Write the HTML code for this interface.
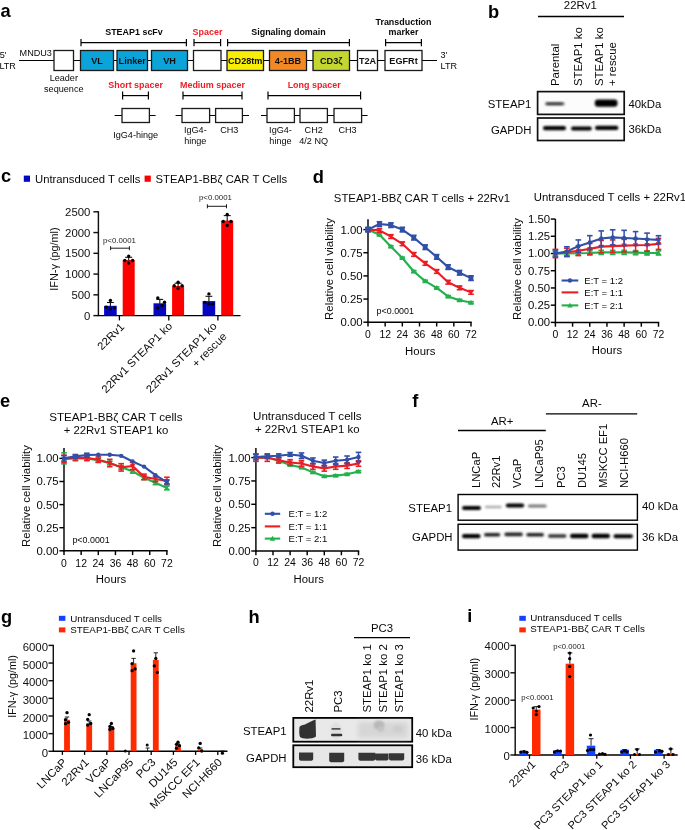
<!DOCTYPE html>
<html><head><meta charset="utf-8"><style>
html,body{margin:0;padding:0;background:#fff;}
svg{display:block;opacity:0.999;}
text{font-family:"Liberation Sans",sans-serif;}
</style></head><body>
<svg width="685" height="830" viewBox="0 0 685 830">
<defs><filter id="blur1" x="-20%" y="-100%" width="140%" height="300%"><feGaussianBlur stdDeviation="0.8"/></filter><filter id="blurh" x="-20%" y="-100%" width="140%" height="300%"><feGaussianBlur stdDeviation="0.55"/></filter><filter id="blur3" x="-30%" y="-50%" width="160%" height="200%"><feGaussianBlur stdDeviation="2.5"/></filter><filter id="blur2" x="-20%" y="-100%" width="140%" height="300%"><feGaussianBlur stdDeviation="1.2"/></filter></defs>
<rect width="685" height="830" fill="#fff"/>
<text x="0.50" y="17.30" font-size="18" text-anchor="start" font-weight="bold" fill="#000" transform="translate(0.50 17.30) scale(1.0150 1) translate(-0.50 -17.30)">a</text>
<line x1="19.00" y1="60.50" x2="437.00" y2="60.50" stroke="#000" stroke-width="1.2"/>
<rect x="54.00" y="50.50" width="19.50" height="20.00" fill="#fff" stroke="#1a1a1a" stroke-width="1.3"/>
<rect x="80.50" y="50.50" width="33.00" height="20.00" fill="#0CA3D8" stroke="#1a1a1a" stroke-width="1.3"/>
<text x="97.00" y="63.80" font-size="9" text-anchor="middle" font-weight="bold" fill="#111" transform="translate(97.00 63.80) scale(1.0150 1) translate(-97.00 -63.80)">VL</text>
<rect x="117.00" y="50.50" width="30.50" height="20.00" fill="#0CA3D8" stroke="#1a1a1a" stroke-width="1.3"/>
<text x="132.25" y="63.80" font-size="9" text-anchor="middle" font-weight="bold" fill="#111" transform="translate(132.25 63.80) scale(1.0150 1) translate(-132.25 -63.80)">Linker</text>
<rect x="151.50" y="50.50" width="36.00" height="20.00" fill="#0CA3D8" stroke="#1a1a1a" stroke-width="1.3"/>
<text x="169.50" y="63.80" font-size="9" text-anchor="middle" font-weight="bold" fill="#111" transform="translate(169.50 63.80) scale(1.0150 1) translate(-169.50 -63.80)">VH</text>
<rect x="193.50" y="50.50" width="27.50" height="20.00" fill="#fff" stroke="#1a1a1a" stroke-width="1.3"/>
<rect x="227.00" y="50.50" width="36.50" height="20.00" fill="#F8EE06" stroke="#1a1a1a" stroke-width="1.3"/>
<text x="245.25" y="63.80" font-size="9" text-anchor="middle" font-weight="bold" fill="#111" transform="translate(245.25 63.80) scale(1.0150 1) translate(-245.25 -63.80)">CD28tm</text>
<rect x="269.50" y="50.50" width="37.00" height="20.00" fill="#F18A26" stroke="#1a1a1a" stroke-width="1.3"/>
<text x="288.00" y="63.80" font-size="9" text-anchor="middle" font-weight="bold" fill="#111" transform="translate(288.00 63.80) scale(1.0150 1) translate(-288.00 -63.80)">4-1BB</text>
<rect x="313.00" y="50.50" width="36.50" height="20.00" fill="#C4D630" stroke="#1a1a1a" stroke-width="1.3"/>
<text x="331.25" y="63.80" font-size="9" text-anchor="middle" font-weight="bold" fill="#111" transform="translate(331.25 63.80) scale(1.0150 1) translate(-331.25 -63.80)">CD3ζ</text>
<rect x="357.50" y="50.50" width="20.00" height="20.00" fill="#fff" stroke="#1a1a1a" stroke-width="1.3"/>
<text x="367.50" y="63.80" font-size="9" text-anchor="middle" font-weight="bold" fill="#111" transform="translate(367.50 63.80) scale(1.0150 1) translate(-367.50 -63.80)">T2A</text>
<rect x="385.00" y="50.50" width="37.00" height="20.00" fill="#fff" stroke="#1a1a1a" stroke-width="1.3"/>
<text x="403.50" y="63.80" font-size="9" text-anchor="middle" font-weight="bold" fill="#111" transform="translate(403.50 63.80) scale(1.0150 1) translate(-403.50 -63.80)">EGFRt</text>
<line x1="81.00" y1="42.60" x2="186.40" y2="42.60" stroke="#000" stroke-width="1.2"/>
<line x1="81.00" y1="38.90" x2="81.00" y2="46.30" stroke="#000" stroke-width="1.2"/>
<line x1="186.40" y1="38.90" x2="186.40" y2="46.30" stroke="#000" stroke-width="1.2"/>
<line x1="194.00" y1="42.60" x2="220.60" y2="42.60" stroke="#000" stroke-width="1.2"/>
<line x1="194.00" y1="38.90" x2="194.00" y2="46.30" stroke="#000" stroke-width="1.2"/>
<line x1="220.60" y1="38.90" x2="220.60" y2="46.30" stroke="#000" stroke-width="1.2"/>
<line x1="227.60" y1="42.60" x2="349.40" y2="42.60" stroke="#000" stroke-width="1.2"/>
<line x1="227.60" y1="38.90" x2="227.60" y2="46.30" stroke="#000" stroke-width="1.2"/>
<line x1="349.40" y1="38.90" x2="349.40" y2="46.30" stroke="#000" stroke-width="1.2"/>
<line x1="385.60" y1="42.60" x2="421.40" y2="42.60" stroke="#000" stroke-width="1.2"/>
<line x1="385.60" y1="38.90" x2="385.60" y2="46.30" stroke="#000" stroke-width="1.2"/>
<line x1="421.40" y1="38.90" x2="421.40" y2="46.30" stroke="#000" stroke-width="1.2"/>
<text x="134.00" y="35.10" font-size="8.8" text-anchor="middle" font-weight="bold" fill="#080808" transform="translate(134.00 35.10) scale(1.0150 1) translate(-134.00 -35.10)">STEAP1 scFv</text>
<text x="207.50" y="35.10" font-size="8.8" text-anchor="middle" font-weight="bold" fill="#EE1C25" transform="translate(207.50 35.10) scale(1.0150 1) translate(-207.50 -35.10)">Spacer</text>
<text x="288.50" y="35.10" font-size="8.8" text-anchor="middle" font-weight="bold" fill="#080808" transform="translate(288.50 35.10) scale(1.0150 1) translate(-288.50 -35.10)">Signaling domain</text>
<text x="403.50" y="25.00" font-size="8.8" text-anchor="middle" font-weight="bold" fill="#080808" transform="translate(403.50 25.00) scale(1.0150 1) translate(-403.50 -25.00)">Transduction</text>
<text x="403.50" y="35.10" font-size="8.8" text-anchor="middle" font-weight="bold" fill="#080808" transform="translate(403.50 35.10) scale(1.0150 1) translate(-403.50 -35.10)">marker</text>
<text x="19.60" y="56.40" font-size="8.8" text-anchor="start" fill="#080808" transform="translate(19.60 56.40) scale(1.0350 1) translate(-19.60 -56.40)">MNDU3</text>
<text x="-0.30" y="57.90" font-size="8.8" text-anchor="start" fill="#080808" transform="translate(-0.30 57.90) scale(1.0350 1) translate(0.30 -57.90)">5'</text>
<text x="-0.60" y="68.70" font-size="8.8" text-anchor="start" fill="#080808" transform="translate(-0.60 68.70) scale(1.0350 1) translate(0.60 -68.70)">LTR</text>
<text x="440.60" y="58.00" font-size="8.8" text-anchor="start" fill="#080808" transform="translate(440.60 58.00) scale(1.0350 1) translate(-440.60 -58.00)">3'</text>
<text x="440.60" y="68.60" font-size="8.8" text-anchor="start" fill="#080808" transform="translate(440.60 68.60) scale(1.0350 1) translate(-440.60 -68.60)">LTR</text>
<text x="63.80" y="81.20" font-size="8.8" text-anchor="middle" fill="#080808" transform="translate(63.80 81.20) scale(1.0350 1) translate(-63.80 -81.20)">Leader</text>
<text x="63.80" y="91.70" font-size="8.8" text-anchor="middle" fill="#080808" transform="translate(63.80 91.70) scale(1.0350 1) translate(-63.80 -91.70)">sequence</text>
<line x1="114.60" y1="115.50" x2="155.60" y2="115.50" stroke="#000" stroke-width="1.2"/>
<rect x="122.00" y="108.50" width="27.40" height="14.00" fill="#fff" stroke="#1a1a1a" stroke-width="1.3"/>
<line x1="122.60" y1="95.60" x2="148.40" y2="95.60" stroke="#000" stroke-width="1.2"/>
<line x1="122.60" y1="91.60" x2="122.60" y2="99.60" stroke="#000" stroke-width="1.2"/>
<line x1="148.40" y1="91.60" x2="148.40" y2="99.60" stroke="#000" stroke-width="1.2"/>
<text x="135.60" y="87.60" font-size="8.8" text-anchor="middle" font-weight="bold" fill="#EE1C25" transform="translate(135.60 87.60) scale(1.0150 1) translate(-135.60 -87.60)">Short spacer</text>
<text x="135.70" y="137.60" font-size="8.8" text-anchor="middle" fill="#080808" transform="translate(135.70 137.60) scale(1.0350 1) translate(-135.70 -137.60)">IgG4-hinge</text>
<line x1="175.60" y1="115.50" x2="249.00" y2="115.50" stroke="#000" stroke-width="1.2"/>
<rect x="182.00" y="108.50" width="27.60" height="14.00" fill="#fff" stroke="#1a1a1a" stroke-width="1.3"/>
<rect x="215.60" y="108.50" width="26.80" height="14.00" fill="#fff" stroke="#1a1a1a" stroke-width="1.3"/>
<line x1="183.00" y1="95.60" x2="242.00" y2="95.60" stroke="#000" stroke-width="1.2"/>
<line x1="183.00" y1="91.60" x2="183.00" y2="99.60" stroke="#000" stroke-width="1.2"/>
<line x1="242.00" y1="91.60" x2="242.00" y2="99.60" stroke="#000" stroke-width="1.2"/>
<text x="212.50" y="87.60" font-size="8.8" text-anchor="middle" font-weight="bold" fill="#EE1C25" transform="translate(212.50 87.60) scale(1.0150 1) translate(-212.50 -87.60)">Medium spacer</text>
<text x="195.30" y="133.00" font-size="8.8" text-anchor="middle" fill="#080808" transform="translate(195.30 133.00) scale(1.0350 1) translate(-195.30 -133.00)">IgG4-</text>
<text x="195.30" y="143.60" font-size="8.8" text-anchor="middle" fill="#080808" transform="translate(195.30 143.60) scale(1.0350 1) translate(-195.30 -143.60)">hinge</text>
<text x="229.30" y="133.00" font-size="8.8" text-anchor="middle" fill="#080808" transform="translate(229.30 133.00) scale(1.0350 1) translate(-229.30 -133.00)">CH3</text>
<line x1="261.00" y1="115.50" x2="367.60" y2="115.50" stroke="#000" stroke-width="1.2"/>
<rect x="267.00" y="108.50" width="27.40" height="14.00" fill="#fff" stroke="#1a1a1a" stroke-width="1.3"/>
<rect x="300.00" y="108.50" width="27.40" height="14.00" fill="#fff" stroke="#1a1a1a" stroke-width="1.3"/>
<rect x="334.00" y="108.50" width="27.60" height="14.00" fill="#fff" stroke="#1a1a1a" stroke-width="1.3"/>
<line x1="268.00" y1="95.60" x2="360.60" y2="95.60" stroke="#000" stroke-width="1.2"/>
<line x1="268.00" y1="91.60" x2="268.00" y2="99.60" stroke="#000" stroke-width="1.2"/>
<line x1="360.60" y1="91.60" x2="360.60" y2="99.60" stroke="#000" stroke-width="1.2"/>
<text x="314.20" y="87.60" font-size="8.8" text-anchor="middle" font-weight="bold" fill="#EE1C25" transform="translate(314.20 87.60) scale(1.0150 1) translate(-314.20 -87.60)">Long spacer</text>
<text x="280.50" y="133.00" font-size="8.8" text-anchor="middle" fill="#080808" transform="translate(280.50 133.00) scale(1.0350 1) translate(-280.50 -133.00)">IgG4-</text>
<text x="280.50" y="143.60" font-size="8.8" text-anchor="middle" fill="#080808" transform="translate(280.50 143.60) scale(1.0350 1) translate(-280.50 -143.60)">hinge</text>
<text x="313.70" y="133.00" font-size="8.8" text-anchor="middle" fill="#080808" transform="translate(313.70 133.00) scale(1.0350 1) translate(-313.70 -133.00)">CH2</text>
<text x="313.70" y="143.60" font-size="8.8" text-anchor="middle" fill="#080808" transform="translate(313.70 143.60) scale(1.0350 1) translate(-313.70 -143.60)">4/2 NQ</text>
<text x="347.50" y="133.00" font-size="8.8" text-anchor="middle" fill="#080808" transform="translate(347.50 133.00) scale(1.0350 1) translate(-347.50 -133.00)">CH3</text>
<text x="488.00" y="17.60" font-size="18" text-anchor="start" font-weight="bold" fill="#000" transform="translate(488.00 17.60) scale(1.0150 1) translate(-488.00 -17.60)">b</text>
<text x="580.30" y="9.00" font-size="11" text-anchor="middle" fill="#080808" transform="translate(580.30 9.00) scale(1.0350 1) translate(-580.30 -9.00)">22Rv1</text>
<line x1="538.00" y1="16.50" x2="624.00" y2="16.50" stroke="#000" stroke-width="1.3"/>
<text x="559.00" y="86.00" font-size="11" text-anchor="start" fill="#080808" transform="rotate(-90 559.00 86.00) translate(559.00 86.00) scale(1.0350 1) translate(-559.00 -86.00)">Parental</text>
<text x="582.40" y="86.00" font-size="11" text-anchor="start" fill="#080808" transform="rotate(-90 582.40 86.00) translate(582.40 86.00) scale(1.0350 1) translate(-582.40 -86.00)">STEAP1 ko</text>
<text x="603.40" y="86.00" font-size="11" text-anchor="start" fill="#080808" transform="rotate(-90 603.40 86.00) translate(603.40 86.00) scale(1.0350 1) translate(-603.40 -86.00)">STEAP1 ko</text>
<text x="616.00" y="86.00" font-size="11" text-anchor="start" fill="#080808" transform="rotate(-90 616.00 86.00) translate(616.00 86.00) scale(1.0350 1) translate(-616.00 -86.00)">+ rescue</text>
<rect x="537.60" y="91.60" width="86.60" height="22.80" fill="#fcfcfc" stroke="#111" stroke-width="1.7"/>
<rect x="537.60" y="118.00" width="86.60" height="22.50" fill="#fcfcfc" stroke="#111" stroke-width="1.7"/>
<rect x="545.0" y="102.2" width="19.5" height="3.0" rx="1.5" fill="#5a5a5a" opacity="1.0" filter="url(#blur1)"/>
<rect x="547.0" y="102.9" width="15.0" height="1.6" rx="0.8" fill="#333" opacity="1.0" filter="url(#blur1)"/>
<rect x="594.8" y="99.6" width="22.7" height="7.2" rx="3.0" fill="#000" opacity="1.0" filter="url(#blur1)"/>
<rect x="543.0" y="126.0" width="23.0" height="4.3" rx="2.1" fill="#000" opacity="1.0" filter="url(#blur1)"/>
<rect x="571.0" y="126.5" width="20.8" height="4.1" rx="2.0" fill="#000" opacity="1.0" filter="url(#blur1)"/>
<rect x="595.0" y="125.8" width="23.4" height="4.3" rx="2.1" fill="#000" opacity="1.0" filter="url(#blur1)"/>
<text x="531.40" y="108.20" font-size="11" text-anchor="end" fill="#080808" transform="translate(531.40 108.20) scale(1.0350 1) translate(-531.40 -108.20)">STEAP1</text>
<text x="531.40" y="134.00" font-size="11" text-anchor="end" fill="#080808" transform="translate(531.40 134.00) scale(1.0350 1) translate(-531.40 -134.00)">GAPDH</text>
<text x="628.40" y="107.80" font-size="11" text-anchor="start" fill="#080808" transform="translate(628.40 107.80) scale(1.0350 1) translate(-628.40 -107.80)">40kDa</text>
<text x="628.40" y="133.20" font-size="11" text-anchor="start" fill="#080808" transform="translate(628.40 133.20) scale(1.0350 1) translate(-628.40 -133.20)">36kDa</text>
<text x="0.90" y="182.00" font-size="18" text-anchor="start" font-weight="bold" fill="#000" transform="translate(0.90 182.00) scale(1.0150 1) translate(-0.90 -182.00)">c</text>
<rect x="23.80" y="175.60" width="6.20" height="6.20" fill="#0606C2"/>
<text x="35.00" y="182.60" font-size="10.9" text-anchor="start" fill="#080808" transform="translate(35.00 182.60) scale(1.0350 1) translate(-35.00 -182.60)">Untransduced T cells</text>
<rect x="144.60" y="175.60" width="6.20" height="6.20" fill="#FF0000"/>
<text x="155.60" y="182.60" font-size="10.9" text-anchor="start" fill="#080808" transform="translate(155.60 182.60) scale(1.0350 1) translate(-155.60 -182.60)">STEAP1-BBζ CAR T Cells</text>
<line x1="98.40" y1="211.20" x2="98.40" y2="315.60" stroke="#111" stroke-width="1.45"/>
<line x1="93.40" y1="315.60" x2="98.40" y2="315.60" stroke="#111" stroke-width="1.45"/>
<text x="90.40" y="319.56" font-size="11" text-anchor="end" fill="#111" transform="translate(90.40 319.56) scale(1.0350 1) translate(-90.40 -319.56)">0</text>
<line x1="93.40" y1="294.84" x2="98.40" y2="294.84" stroke="#111" stroke-width="1.45"/>
<text x="90.40" y="298.80" font-size="11" text-anchor="end" fill="#111" transform="translate(90.40 298.80) scale(1.0350 1) translate(-90.40 -298.80)">500</text>
<line x1="93.40" y1="274.08" x2="98.40" y2="274.08" stroke="#111" stroke-width="1.45"/>
<text x="90.40" y="278.04" font-size="11" text-anchor="end" fill="#111" transform="translate(90.40 278.04) scale(1.0350 1) translate(-90.40 -278.04)">1000</text>
<line x1="93.40" y1="253.32" x2="98.40" y2="253.32" stroke="#111" stroke-width="1.45"/>
<text x="90.40" y="257.28" font-size="11" text-anchor="end" fill="#111" transform="translate(90.40 257.28) scale(1.0350 1) translate(-90.40 -257.28)">1500</text>
<line x1="93.40" y1="232.56" x2="98.40" y2="232.56" stroke="#111" stroke-width="1.45"/>
<text x="90.40" y="236.52" font-size="11" text-anchor="end" fill="#111" transform="translate(90.40 236.52) scale(1.0350 1) translate(-90.40 -236.52)">2000</text>
<line x1="93.40" y1="211.80" x2="98.40" y2="211.80" stroke="#111" stroke-width="1.45"/>
<text x="90.40" y="215.76" font-size="11" text-anchor="end" fill="#111" transform="translate(90.40 215.76) scale(1.0350 1) translate(-90.40 -215.76)">2500</text>
<line x1="97.70" y1="315.60" x2="240.50" y2="315.60" stroke="#000" stroke-width="1.45"/>
<text x="58.40" y="259.00" font-size="10.5" text-anchor="middle" fill="#080808" transform="rotate(-90 58.40 259.00) translate(58.40 259.00) scale(1.0350 1) translate(-58.40 -259.00)">IFN-γ (pg/ml)</text>
<rect x="104.10" y="305.80" width="12.60" height="9.80" fill="#0606C2"/>
<rect x="122.70" y="260.00" width="12.00" height="55.60" fill="#FF0000"/>
<line x1="110.40" y1="306.30" x2="110.40" y2="302.50" stroke="#111" stroke-width="1.1"/>
<line x1="107.00" y1="302.50" x2="113.80" y2="302.50" stroke="#111" stroke-width="1.1"/>
<line x1="128.70" y1="260.50" x2="128.70" y2="257.30" stroke="#111" stroke-width="1.1"/>
<line x1="125.20" y1="257.30" x2="132.20" y2="257.30" stroke="#111" stroke-width="1.1"/>
<circle cx="110.40" cy="300.40" r="1.7" fill="#000"/>
<circle cx="106.20" cy="307.20" r="1.7" fill="#000"/>
<circle cx="110.40" cy="308.90" r="1.7" fill="#000"/>
<circle cx="114.50" cy="307.90" r="1.7" fill="#000"/>
<circle cx="128.70" cy="256.10" r="1.7" fill="#000"/>
<circle cx="124.80" cy="260.50" r="1.7" fill="#000"/>
<circle cx="132.60" cy="260.50" r="1.7" fill="#000"/>
<circle cx="128.70" cy="263.10" r="1.7" fill="#000"/>
<line x1="119.40" y1="315.60" x2="119.40" y2="320.40" stroke="#000" stroke-width="1.3"/>
<rect x="153.50" y="303.30" width="12.60" height="12.30" fill="#0606C2"/>
<rect x="172.10" y="286.00" width="12.00" height="29.60" fill="#FF0000"/>
<line x1="159.80" y1="303.80" x2="159.80" y2="299.40" stroke="#111" stroke-width="1.1"/>
<line x1="156.40" y1="299.40" x2="163.20" y2="299.40" stroke="#111" stroke-width="1.1"/>
<line x1="178.10" y1="286.50" x2="178.10" y2="283.20" stroke="#111" stroke-width="1.1"/>
<line x1="174.60" y1="283.20" x2="181.60" y2="283.20" stroke="#111" stroke-width="1.1"/>
<circle cx="157.80" cy="298.00" r="1.7" fill="#000"/>
<circle cx="164.50" cy="302.30" r="1.7" fill="#000"/>
<circle cx="162.00" cy="305.50" r="1.7" fill="#000"/>
<circle cx="157.80" cy="307.90" r="1.7" fill="#000"/>
<circle cx="178.10" cy="282.20" r="1.7" fill="#000"/>
<circle cx="174.20" cy="285.70" r="1.7" fill="#000"/>
<circle cx="182.10" cy="285.70" r="1.7" fill="#000"/>
<circle cx="178.10" cy="288.30" r="1.7" fill="#000"/>
<line x1="168.80" y1="315.60" x2="168.80" y2="320.40" stroke="#000" stroke-width="1.3"/>
<rect x="202.60" y="301.10" width="12.60" height="14.50" fill="#0606C2"/>
<rect x="221.20" y="220.60" width="12.00" height="95.00" fill="#FF0000"/>
<line x1="208.90" y1="301.60" x2="208.90" y2="296.30" stroke="#111" stroke-width="1.1"/>
<line x1="205.50" y1="296.30" x2="212.30" y2="296.30" stroke="#111" stroke-width="1.1"/>
<line x1="227.20" y1="221.10" x2="227.20" y2="215.60" stroke="#111" stroke-width="1.1"/>
<line x1="223.70" y1="215.60" x2="230.70" y2="215.60" stroke="#111" stroke-width="1.1"/>
<circle cx="208.90" cy="293.90" r="1.7" fill="#000"/>
<circle cx="204.80" cy="302.40" r="1.7" fill="#000"/>
<circle cx="208.90" cy="303.90" r="1.7" fill="#000"/>
<circle cx="212.80" cy="303.90" r="1.7" fill="#000"/>
<circle cx="227.20" cy="214.50" r="1.7" fill="#000"/>
<circle cx="223.20" cy="221.50" r="1.7" fill="#000"/>
<circle cx="231.00" cy="221.50" r="1.7" fill="#000"/>
<circle cx="227.20" cy="225.50" r="1.7" fill="#000"/>
<line x1="217.90" y1="315.60" x2="217.90" y2="320.40" stroke="#000" stroke-width="1.3"/>
<text x="119.50" y="243.40" font-size="7.6" text-anchor="middle" fill="#222" transform="translate(119.50 243.40) scale(1.0350 1) translate(-119.50 -243.40)">p&lt;0.0001</text>
<line x1="110.60" y1="248.20" x2="129.40" y2="248.20" stroke="#000" stroke-width="0.9"/>
<line x1="110.60" y1="246.20" x2="110.60" y2="250.20" stroke="#000" stroke-width="0.9"/>
<line x1="129.40" y1="246.20" x2="129.40" y2="250.20" stroke="#000" stroke-width="0.9"/>
<text x="215.50" y="200.40" font-size="7.6" text-anchor="middle" fill="#222" transform="translate(215.50 200.40) scale(1.0350 1) translate(-215.50 -200.40)">p&lt;0.0001</text>
<line x1="207.40" y1="206.30" x2="226.50" y2="206.30" stroke="#000" stroke-width="0.9"/>
<line x1="207.40" y1="204.30" x2="207.40" y2="208.30" stroke="#000" stroke-width="0.9"/>
<line x1="226.50" y1="204.30" x2="226.50" y2="208.30" stroke="#000" stroke-width="0.9"/>
<text x="125.00" y="327.50" font-size="11" text-anchor="end" fill="#080808" transform="rotate(-45 125.00 327.50) translate(125.00 327.50) scale(1.0350 1) translate(-125.00 -327.50)">22Rv1</text>
<text x="173.00" y="326.70" font-size="11" text-anchor="end" fill="#080808" transform="rotate(-45 173.00 326.70) translate(173.00 326.70) scale(1.0350 1) translate(-173.00 -326.70)">22Rv1 STEAP1 ko</text>
<text x="217.60" y="326.70" font-size="11" text-anchor="end" fill="#080808" transform="rotate(-45 217.60 326.70) translate(217.60 326.70) scale(1.0350 1) translate(-217.60 -326.70)">22Rv1 STEAP1 ko</text>
<text x="227.60" y="337.00" font-size="11" text-anchor="end" fill="#080808" transform="rotate(-45 227.60 337.00) translate(227.60 337.00) scale(1.0350 1) translate(-227.60 -337.00)">+ rescue</text>
<text x="312.70" y="182.60" font-size="18" text-anchor="start" font-weight="bold" fill="#000" transform="translate(312.70 182.60) scale(1.0150 1) translate(-312.70 -182.60)">d</text>
<text x="333.80" y="201.90" font-size="11" text-anchor="start" fill="#080808" transform="translate(333.80 201.90) scale(1.0350 1) translate(-333.80 -201.90)">STEAP1-BBζ CAR T cells + 22Rv1</text>
<line x1="368.00" y1="219.30" x2="368.00" y2="322.90" stroke="#000" stroke-width="1.45"/>
<line x1="367.30" y1="322.20" x2="471.70" y2="322.20" stroke="#000" stroke-width="1.45"/>
<line x1="363.40" y1="322.20" x2="368.00" y2="322.20" stroke="#000" stroke-width="1.45"/>
<text x="362.70" y="326.16" font-size="11" text-anchor="end" fill="#080808" transform="translate(362.70 326.16) scale(1.0350 1) translate(-362.70 -326.16)">0.00</text>
<line x1="363.40" y1="299.05" x2="368.00" y2="299.05" stroke="#000" stroke-width="1.45"/>
<text x="362.70" y="303.01" font-size="11" text-anchor="end" fill="#080808" transform="translate(362.70 303.01) scale(1.0350 1) translate(-362.70 -303.01)">0.25</text>
<line x1="363.40" y1="275.90" x2="368.00" y2="275.90" stroke="#000" stroke-width="1.45"/>
<text x="362.70" y="279.86" font-size="11" text-anchor="end" fill="#080808" transform="translate(362.70 279.86) scale(1.0350 1) translate(-362.70 -279.86)">0.50</text>
<line x1="363.40" y1="252.75" x2="368.00" y2="252.75" stroke="#000" stroke-width="1.45"/>
<text x="362.70" y="256.71" font-size="11" text-anchor="end" fill="#080808" transform="translate(362.70 256.71) scale(1.0350 1) translate(-362.70 -256.71)">0.75</text>
<line x1="363.40" y1="229.60" x2="368.00" y2="229.60" stroke="#000" stroke-width="1.45"/>
<text x="362.70" y="233.56" font-size="11" text-anchor="end" fill="#080808" transform="translate(362.70 233.56) scale(1.0350 1) translate(-362.70 -233.56)">1.00</text>
<line x1="368.00" y1="322.20" x2="368.00" y2="326.50" stroke="#000" stroke-width="1.45"/>
<text x="368.00" y="338.10" font-size="10.4" text-anchor="middle" fill="#080808">0</text>
<line x1="385.17" y1="322.20" x2="385.17" y2="326.50" stroke="#000" stroke-width="1.45"/>
<text x="385.17" y="338.10" font-size="10.4" text-anchor="middle" fill="#080808">12</text>
<line x1="402.33" y1="322.20" x2="402.33" y2="326.50" stroke="#000" stroke-width="1.45"/>
<text x="402.33" y="338.10" font-size="10.4" text-anchor="middle" fill="#080808">24</text>
<line x1="419.50" y1="322.20" x2="419.50" y2="326.50" stroke="#000" stroke-width="1.45"/>
<text x="419.50" y="338.10" font-size="10.4" text-anchor="middle" fill="#080808">36</text>
<line x1="436.67" y1="322.20" x2="436.67" y2="326.50" stroke="#000" stroke-width="1.45"/>
<text x="436.67" y="338.10" font-size="10.4" text-anchor="middle" fill="#080808">48</text>
<line x1="453.83" y1="322.20" x2="453.83" y2="326.50" stroke="#000" stroke-width="1.45"/>
<text x="453.83" y="338.10" font-size="10.4" text-anchor="middle" fill="#080808">60</text>
<line x1="471.00" y1="322.20" x2="471.00" y2="326.50" stroke="#000" stroke-width="1.45"/>
<text x="471.00" y="338.10" font-size="10.4" text-anchor="middle" fill="#080808">72</text>
<text x="420.30" y="355.00" font-size="11" text-anchor="middle" fill="#080808" transform="translate(420.30 355.00) scale(1.0350 1) translate(-420.30 -355.00)">Hours</text>
<text x="333.50" y="269.00" font-size="11" text-anchor="middle" fill="#080808" transform="rotate(-90 333.50 269.00) translate(333.50 269.00) scale(1.0350 1) translate(-333.50 -269.00)">Relative cell viability</text>
<line x1="368.00" y1="228.67" x2="368.00" y2="230.53" stroke="#22B14C" stroke-width="1.5"/>
<line x1="365.20" y1="228.67" x2="370.80" y2="228.67" stroke="#22B14C" stroke-width="1.6"/>
<line x1="365.20" y1="230.53" x2="370.80" y2="230.53" stroke="#22B14C" stroke-width="1.6"/>
<line x1="379.44" y1="233.86" x2="379.44" y2="235.71" stroke="#22B14C" stroke-width="1.5"/>
<line x1="376.64" y1="233.86" x2="382.24" y2="233.86" stroke="#22B14C" stroke-width="1.6"/>
<line x1="376.64" y1="235.71" x2="382.24" y2="235.71" stroke="#22B14C" stroke-width="1.6"/>
<line x1="390.89" y1="245.62" x2="390.89" y2="247.47" stroke="#22B14C" stroke-width="1.5"/>
<line x1="388.09" y1="245.62" x2="393.69" y2="245.62" stroke="#22B14C" stroke-width="1.6"/>
<line x1="388.09" y1="247.47" x2="393.69" y2="247.47" stroke="#22B14C" stroke-width="1.6"/>
<line x1="402.33" y1="257.10" x2="402.33" y2="258.95" stroke="#22B14C" stroke-width="1.5"/>
<line x1="399.53" y1="257.10" x2="405.13" y2="257.10" stroke="#22B14C" stroke-width="1.6"/>
<line x1="399.53" y1="258.95" x2="405.13" y2="258.95" stroke="#22B14C" stroke-width="1.6"/>
<line x1="413.78" y1="270.53" x2="413.78" y2="272.38" stroke="#22B14C" stroke-width="1.5"/>
<line x1="410.98" y1="270.53" x2="416.58" y2="270.53" stroke="#22B14C" stroke-width="1.6"/>
<line x1="410.98" y1="272.38" x2="416.58" y2="272.38" stroke="#22B14C" stroke-width="1.6"/>
<line x1="425.22" y1="280.16" x2="425.22" y2="282.01" stroke="#22B14C" stroke-width="1.5"/>
<line x1="422.42" y1="280.16" x2="428.02" y2="280.16" stroke="#22B14C" stroke-width="1.6"/>
<line x1="422.42" y1="282.01" x2="428.02" y2="282.01" stroke="#22B14C" stroke-width="1.6"/>
<line x1="436.67" y1="286.92" x2="436.67" y2="288.77" stroke="#22B14C" stroke-width="1.5"/>
<line x1="433.87" y1="286.92" x2="439.47" y2="286.92" stroke="#22B14C" stroke-width="1.6"/>
<line x1="433.87" y1="288.77" x2="439.47" y2="288.77" stroke="#22B14C" stroke-width="1.6"/>
<line x1="448.11" y1="295.53" x2="448.11" y2="297.38" stroke="#22B14C" stroke-width="1.5"/>
<line x1="445.31" y1="295.53" x2="450.91" y2="295.53" stroke="#22B14C" stroke-width="1.6"/>
<line x1="445.31" y1="297.38" x2="450.91" y2="297.38" stroke="#22B14C" stroke-width="1.6"/>
<line x1="459.56" y1="299.33" x2="459.56" y2="301.18" stroke="#22B14C" stroke-width="1.5"/>
<line x1="456.76" y1="299.33" x2="462.36" y2="299.33" stroke="#22B14C" stroke-width="1.6"/>
<line x1="456.76" y1="301.18" x2="462.36" y2="301.18" stroke="#22B14C" stroke-width="1.6"/>
<line x1="471.00" y1="301.64" x2="471.00" y2="303.49" stroke="#22B14C" stroke-width="1.5"/>
<line x1="468.20" y1="301.64" x2="473.80" y2="301.64" stroke="#22B14C" stroke-width="1.6"/>
<line x1="468.20" y1="303.49" x2="473.80" y2="303.49" stroke="#22B14C" stroke-width="1.6"/>
<polyline points="368.00,229.60 379.44,234.79 390.89,246.55 402.33,258.03 413.78,271.46 425.22,281.09 436.67,287.85 448.11,296.46 459.56,300.25 471.00,302.57" fill="none" stroke="#22B14C" stroke-width="2.1" stroke-linejoin="round"/>
<polygon points="368.00,226.84 365.24,231.67 370.76,231.67" fill="#22B14C"/>
<polygon points="379.44,232.03 376.68,236.86 382.20,236.86" fill="#22B14C"/>
<polygon points="390.89,243.79 388.13,248.62 393.65,248.62" fill="#22B14C"/>
<polygon points="402.33,255.27 399.57,260.10 405.09,260.10" fill="#22B14C"/>
<polygon points="413.78,268.70 411.02,273.53 416.54,273.53" fill="#22B14C"/>
<polygon points="425.22,278.33 422.46,283.16 427.98,283.16" fill="#22B14C"/>
<polygon points="436.67,285.09 433.91,289.92 439.43,289.92" fill="#22B14C"/>
<polygon points="448.11,293.70 445.35,298.53 450.87,298.53" fill="#22B14C"/>
<polygon points="459.56,297.49 456.80,302.32 462.32,302.32" fill="#22B14C"/>
<polygon points="471.00,299.81 468.24,304.64 473.76,304.64" fill="#22B14C"/>
<line x1="368.00" y1="227.75" x2="368.00" y2="231.45" stroke="#EC1C24" stroke-width="1.5"/>
<line x1="365.20" y1="227.75" x2="370.80" y2="227.75" stroke="#EC1C24" stroke-width="1.6"/>
<line x1="365.20" y1="231.45" x2="370.80" y2="231.45" stroke="#EC1C24" stroke-width="1.6"/>
<line x1="379.44" y1="228.49" x2="379.44" y2="232.19" stroke="#EC1C24" stroke-width="1.5"/>
<line x1="376.64" y1="228.49" x2="382.24" y2="228.49" stroke="#EC1C24" stroke-width="1.6"/>
<line x1="376.64" y1="232.19" x2="382.24" y2="232.19" stroke="#EC1C24" stroke-width="1.6"/>
<line x1="390.89" y1="234.69" x2="390.89" y2="238.40" stroke="#EC1C24" stroke-width="1.5"/>
<line x1="388.09" y1="234.69" x2="393.69" y2="234.69" stroke="#EC1C24" stroke-width="1.6"/>
<line x1="388.09" y1="238.40" x2="393.69" y2="238.40" stroke="#EC1C24" stroke-width="1.6"/>
<line x1="402.33" y1="241.92" x2="402.33" y2="245.62" stroke="#EC1C24" stroke-width="1.5"/>
<line x1="399.53" y1="241.92" x2="405.13" y2="241.92" stroke="#EC1C24" stroke-width="1.6"/>
<line x1="399.53" y1="245.62" x2="405.13" y2="245.62" stroke="#EC1C24" stroke-width="1.6"/>
<line x1="413.78" y1="252.56" x2="413.78" y2="256.27" stroke="#EC1C24" stroke-width="1.5"/>
<line x1="410.98" y1="252.56" x2="416.58" y2="252.56" stroke="#EC1C24" stroke-width="1.6"/>
<line x1="410.98" y1="256.27" x2="416.58" y2="256.27" stroke="#EC1C24" stroke-width="1.6"/>
<line x1="425.22" y1="261.55" x2="425.22" y2="265.25" stroke="#EC1C24" stroke-width="1.5"/>
<line x1="422.42" y1="261.55" x2="428.02" y2="261.55" stroke="#EC1C24" stroke-width="1.6"/>
<line x1="422.42" y1="265.25" x2="428.02" y2="265.25" stroke="#EC1C24" stroke-width="1.6"/>
<line x1="436.67" y1="269.60" x2="436.67" y2="273.31" stroke="#EC1C24" stroke-width="1.5"/>
<line x1="433.87" y1="269.60" x2="439.47" y2="269.60" stroke="#EC1C24" stroke-width="1.6"/>
<line x1="433.87" y1="273.31" x2="439.47" y2="273.31" stroke="#EC1C24" stroke-width="1.6"/>
<line x1="448.11" y1="280.34" x2="448.11" y2="284.05" stroke="#EC1C24" stroke-width="1.5"/>
<line x1="445.31" y1="280.34" x2="450.91" y2="280.34" stroke="#EC1C24" stroke-width="1.6"/>
<line x1="445.31" y1="284.05" x2="450.91" y2="284.05" stroke="#EC1C24" stroke-width="1.6"/>
<line x1="459.56" y1="285.99" x2="459.56" y2="289.70" stroke="#EC1C24" stroke-width="1.5"/>
<line x1="456.76" y1="285.99" x2="462.36" y2="285.99" stroke="#EC1C24" stroke-width="1.6"/>
<line x1="456.76" y1="289.70" x2="462.36" y2="289.70" stroke="#EC1C24" stroke-width="1.6"/>
<line x1="471.00" y1="290.53" x2="471.00" y2="294.23" stroke="#EC1C24" stroke-width="1.5"/>
<line x1="468.20" y1="290.53" x2="473.80" y2="290.53" stroke="#EC1C24" stroke-width="1.6"/>
<line x1="468.20" y1="294.23" x2="473.80" y2="294.23" stroke="#EC1C24" stroke-width="1.6"/>
<polyline points="368.00,229.60 379.44,230.34 390.89,236.54 402.33,243.77 413.78,254.42 425.22,263.40 436.67,271.46 448.11,282.20 459.56,287.85 471.00,292.38" fill="none" stroke="#EC1C24" stroke-width="2.1" stroke-linejoin="round"/>
<polygon points="368.00,232.36 365.24,227.53 370.76,227.53" fill="#EC1C24"/>
<polygon points="379.44,233.10 376.68,228.27 382.20,228.27" fill="#EC1C24"/>
<polygon points="390.89,239.30 388.13,234.47 393.65,234.47" fill="#EC1C24"/>
<polygon points="402.33,246.53 399.57,241.70 405.09,241.70" fill="#EC1C24"/>
<polygon points="413.78,257.18 411.02,252.35 416.54,252.35" fill="#EC1C24"/>
<polygon points="425.22,266.16 422.46,261.33 427.98,261.33" fill="#EC1C24"/>
<polygon points="436.67,274.22 433.91,269.39 439.43,269.39" fill="#EC1C24"/>
<polygon points="448.11,284.96 445.35,280.13 450.87,280.13" fill="#EC1C24"/>
<polygon points="459.56,290.61 456.80,285.78 462.32,285.78" fill="#EC1C24"/>
<polygon points="471.00,295.14 468.24,290.31 473.76,290.31" fill="#EC1C24"/>
<line x1="368.00" y1="227.28" x2="368.00" y2="231.91" stroke="#3050A8" stroke-width="1.5"/>
<line x1="365.20" y1="227.28" x2="370.80" y2="227.28" stroke="#3050A8" stroke-width="1.6"/>
<line x1="365.20" y1="231.91" x2="370.80" y2="231.91" stroke="#3050A8" stroke-width="1.6"/>
<line x1="379.44" y1="221.73" x2="379.44" y2="226.36" stroke="#3050A8" stroke-width="1.5"/>
<line x1="376.64" y1="221.73" x2="382.24" y2="221.73" stroke="#3050A8" stroke-width="1.6"/>
<line x1="376.64" y1="226.36" x2="382.24" y2="226.36" stroke="#3050A8" stroke-width="1.6"/>
<line x1="390.89" y1="222.84" x2="390.89" y2="227.47" stroke="#3050A8" stroke-width="1.5"/>
<line x1="388.09" y1="222.84" x2="393.69" y2="222.84" stroke="#3050A8" stroke-width="1.6"/>
<line x1="388.09" y1="227.47" x2="393.69" y2="227.47" stroke="#3050A8" stroke-width="1.6"/>
<line x1="402.33" y1="227.28" x2="402.33" y2="231.91" stroke="#3050A8" stroke-width="1.5"/>
<line x1="399.53" y1="227.28" x2="405.13" y2="227.28" stroke="#3050A8" stroke-width="1.6"/>
<line x1="399.53" y1="231.91" x2="405.13" y2="231.91" stroke="#3050A8" stroke-width="1.6"/>
<line x1="413.78" y1="235.34" x2="413.78" y2="239.97" stroke="#3050A8" stroke-width="1.5"/>
<line x1="410.98" y1="235.34" x2="416.58" y2="235.34" stroke="#3050A8" stroke-width="1.6"/>
<line x1="410.98" y1="239.97" x2="416.58" y2="239.97" stroke="#3050A8" stroke-width="1.6"/>
<line x1="425.22" y1="244.88" x2="425.22" y2="249.51" stroke="#3050A8" stroke-width="1.5"/>
<line x1="422.42" y1="244.88" x2="428.02" y2="244.88" stroke="#3050A8" stroke-width="1.6"/>
<line x1="422.42" y1="249.51" x2="428.02" y2="249.51" stroke="#3050A8" stroke-width="1.6"/>
<line x1="436.67" y1="254.60" x2="436.67" y2="259.23" stroke="#3050A8" stroke-width="1.5"/>
<line x1="433.87" y1="254.60" x2="439.47" y2="254.60" stroke="#3050A8" stroke-width="1.6"/>
<line x1="433.87" y1="259.23" x2="439.47" y2="259.23" stroke="#3050A8" stroke-width="1.6"/>
<line x1="448.11" y1="264.79" x2="448.11" y2="269.42" stroke="#3050A8" stroke-width="1.5"/>
<line x1="445.31" y1="264.79" x2="450.91" y2="264.79" stroke="#3050A8" stroke-width="1.6"/>
<line x1="445.31" y1="269.42" x2="450.91" y2="269.42" stroke="#3050A8" stroke-width="1.6"/>
<line x1="459.56" y1="270.44" x2="459.56" y2="275.07" stroke="#3050A8" stroke-width="1.5"/>
<line x1="456.76" y1="270.44" x2="462.36" y2="270.44" stroke="#3050A8" stroke-width="1.6"/>
<line x1="456.76" y1="275.07" x2="462.36" y2="275.07" stroke="#3050A8" stroke-width="1.6"/>
<line x1="471.00" y1="275.81" x2="471.00" y2="280.44" stroke="#3050A8" stroke-width="1.5"/>
<line x1="468.20" y1="275.81" x2="473.80" y2="275.81" stroke="#3050A8" stroke-width="1.6"/>
<line x1="468.20" y1="280.44" x2="473.80" y2="280.44" stroke="#3050A8" stroke-width="1.6"/>
<polyline points="368.00,229.60 379.44,224.04 390.89,225.16 402.33,229.60 413.78,237.66 425.22,247.19 436.67,256.92 448.11,267.10 459.56,272.75 471.00,278.12" fill="none" stroke="#3050A8" stroke-width="2.1" stroke-linejoin="round"/>
<rect x="365.60" y="227.20" width="4.80" height="4.80" fill="#3050A8"/>
<rect x="377.04" y="221.64" width="4.80" height="4.80" fill="#3050A8"/>
<rect x="388.49" y="222.76" width="4.80" height="4.80" fill="#3050A8"/>
<rect x="399.93" y="227.20" width="4.80" height="4.80" fill="#3050A8"/>
<rect x="411.38" y="235.26" width="4.80" height="4.80" fill="#3050A8"/>
<rect x="422.82" y="244.79" width="4.80" height="4.80" fill="#3050A8"/>
<rect x="434.27" y="254.52" width="4.80" height="4.80" fill="#3050A8"/>
<rect x="445.71" y="264.70" width="4.80" height="4.80" fill="#3050A8"/>
<rect x="457.16" y="270.35" width="4.80" height="4.80" fill="#3050A8"/>
<rect x="468.60" y="275.72" width="4.80" height="4.80" fill="#3050A8"/>
<text x="376.60" y="314.00" font-size="8.6" text-anchor="start" fill="#080808" transform="translate(376.60 314.00) scale(1.0350 1) translate(-376.60 -314.00)">p&lt;0.0001</text>
<text x="533.80" y="201.00" font-size="11" text-anchor="start" fill="#080808" transform="translate(533.80 201.00) scale(1.0350 1) translate(-533.80 -201.00)">Untransduced T cells + 22Rv1</text>
<line x1="555.40" y1="219.00" x2="555.40" y2="323.10" stroke="#000" stroke-width="1.45"/>
<line x1="554.70" y1="322.40" x2="659.20" y2="322.40" stroke="#000" stroke-width="1.45"/>
<line x1="550.80" y1="322.40" x2="555.40" y2="322.40" stroke="#000" stroke-width="1.45"/>
<text x="550.10" y="326.36" font-size="11" text-anchor="end" fill="#080808" transform="translate(550.10 326.36) scale(1.0350 1) translate(-550.10 -326.36)">0.00</text>
<line x1="550.80" y1="305.17" x2="555.40" y2="305.17" stroke="#000" stroke-width="1.45"/>
<text x="550.10" y="309.13" font-size="11" text-anchor="end" fill="#080808" transform="translate(550.10 309.13) scale(1.0350 1) translate(-550.10 -309.13)">0.25</text>
<line x1="550.80" y1="287.95" x2="555.40" y2="287.95" stroke="#000" stroke-width="1.45"/>
<text x="550.10" y="291.91" font-size="11" text-anchor="end" fill="#080808" transform="translate(550.10 291.91) scale(1.0350 1) translate(-550.10 -291.91)">0.50</text>
<line x1="550.80" y1="270.72" x2="555.40" y2="270.72" stroke="#000" stroke-width="1.45"/>
<text x="550.10" y="274.68" font-size="11" text-anchor="end" fill="#080808" transform="translate(550.10 274.68) scale(1.0350 1) translate(-550.10 -274.68)">0.75</text>
<line x1="550.80" y1="253.50" x2="555.40" y2="253.50" stroke="#000" stroke-width="1.45"/>
<text x="550.10" y="257.46" font-size="11" text-anchor="end" fill="#080808" transform="translate(550.10 257.46) scale(1.0350 1) translate(-550.10 -257.46)">1.00</text>
<line x1="550.80" y1="236.27" x2="555.40" y2="236.27" stroke="#000" stroke-width="1.45"/>
<text x="550.10" y="240.23" font-size="11" text-anchor="end" fill="#080808" transform="translate(550.10 240.23) scale(1.0350 1) translate(-550.10 -240.23)">1.25</text>
<line x1="550.80" y1="219.05" x2="555.40" y2="219.05" stroke="#000" stroke-width="1.45"/>
<text x="550.10" y="223.01" font-size="11" text-anchor="end" fill="#080808" transform="translate(550.10 223.01) scale(1.0350 1) translate(-550.10 -223.01)">1.50</text>
<line x1="555.40" y1="322.40" x2="555.40" y2="326.70" stroke="#000" stroke-width="1.45"/>
<text x="555.40" y="337.80" font-size="10.4" text-anchor="middle" fill="#080808">0</text>
<line x1="572.58" y1="322.40" x2="572.58" y2="326.70" stroke="#000" stroke-width="1.45"/>
<text x="572.58" y="337.80" font-size="10.4" text-anchor="middle" fill="#080808">12</text>
<line x1="589.77" y1="322.40" x2="589.77" y2="326.70" stroke="#000" stroke-width="1.45"/>
<text x="589.77" y="337.80" font-size="10.4" text-anchor="middle" fill="#080808">24</text>
<line x1="606.95" y1="322.40" x2="606.95" y2="326.70" stroke="#000" stroke-width="1.45"/>
<text x="606.95" y="337.80" font-size="10.4" text-anchor="middle" fill="#080808">36</text>
<line x1="624.13" y1="322.40" x2="624.13" y2="326.70" stroke="#000" stroke-width="1.45"/>
<text x="624.13" y="337.80" font-size="10.4" text-anchor="middle" fill="#080808">48</text>
<line x1="641.32" y1="322.40" x2="641.32" y2="326.70" stroke="#000" stroke-width="1.45"/>
<text x="641.32" y="337.80" font-size="10.4" text-anchor="middle" fill="#080808">60</text>
<line x1="658.50" y1="322.40" x2="658.50" y2="326.70" stroke="#000" stroke-width="1.45"/>
<text x="658.50" y="337.80" font-size="10.4" text-anchor="middle" fill="#080808">72</text>
<text x="606.95" y="354.00" font-size="11" text-anchor="middle" fill="#080808" transform="translate(606.95 354.00) scale(1.0350 1) translate(-606.95 -354.00)">Hours</text>
<text x="521.00" y="269.00" font-size="11" text-anchor="middle" fill="#080808" transform="rotate(-90 521.00 269.00) translate(521.00 269.00) scale(1.0350 1) translate(-521.00 -269.00)">Relative cell viability</text>
<line x1="555.40" y1="251.43" x2="555.40" y2="255.57" stroke="#22B14C" stroke-width="1.5"/>
<line x1="552.60" y1="251.43" x2="558.20" y2="251.43" stroke="#22B14C" stroke-width="1.6"/>
<line x1="552.60" y1="255.57" x2="558.20" y2="255.57" stroke="#22B14C" stroke-width="1.6"/>
<line x1="566.86" y1="251.43" x2="566.86" y2="255.57" stroke="#22B14C" stroke-width="1.5"/>
<line x1="564.06" y1="251.43" x2="569.66" y2="251.43" stroke="#22B14C" stroke-width="1.6"/>
<line x1="564.06" y1="255.57" x2="569.66" y2="255.57" stroke="#22B14C" stroke-width="1.6"/>
<line x1="578.31" y1="251.16" x2="578.31" y2="255.29" stroke="#22B14C" stroke-width="1.5"/>
<line x1="575.51" y1="251.16" x2="581.11" y2="251.16" stroke="#22B14C" stroke-width="1.6"/>
<line x1="575.51" y1="255.29" x2="581.11" y2="255.29" stroke="#22B14C" stroke-width="1.6"/>
<line x1="589.77" y1="250.88" x2="589.77" y2="255.02" stroke="#22B14C" stroke-width="1.5"/>
<line x1="586.97" y1="250.88" x2="592.57" y2="250.88" stroke="#22B14C" stroke-width="1.6"/>
<line x1="586.97" y1="255.02" x2="592.57" y2="255.02" stroke="#22B14C" stroke-width="1.6"/>
<line x1="601.22" y1="250.33" x2="601.22" y2="254.46" stroke="#22B14C" stroke-width="1.5"/>
<line x1="598.42" y1="250.33" x2="604.02" y2="250.33" stroke="#22B14C" stroke-width="1.6"/>
<line x1="598.42" y1="254.46" x2="604.02" y2="254.46" stroke="#22B14C" stroke-width="1.6"/>
<line x1="612.68" y1="250.33" x2="612.68" y2="254.46" stroke="#22B14C" stroke-width="1.5"/>
<line x1="609.88" y1="250.33" x2="615.48" y2="250.33" stroke="#22B14C" stroke-width="1.6"/>
<line x1="609.88" y1="254.46" x2="615.48" y2="254.46" stroke="#22B14C" stroke-width="1.6"/>
<line x1="624.13" y1="250.33" x2="624.13" y2="254.46" stroke="#22B14C" stroke-width="1.5"/>
<line x1="621.33" y1="250.33" x2="626.93" y2="250.33" stroke="#22B14C" stroke-width="1.6"/>
<line x1="621.33" y1="254.46" x2="626.93" y2="254.46" stroke="#22B14C" stroke-width="1.6"/>
<line x1="635.59" y1="250.61" x2="635.59" y2="254.74" stroke="#22B14C" stroke-width="1.5"/>
<line x1="632.79" y1="250.61" x2="638.39" y2="250.61" stroke="#22B14C" stroke-width="1.6"/>
<line x1="632.79" y1="254.74" x2="638.39" y2="254.74" stroke="#22B14C" stroke-width="1.6"/>
<line x1="647.04" y1="250.88" x2="647.04" y2="255.02" stroke="#22B14C" stroke-width="1.5"/>
<line x1="644.24" y1="250.88" x2="649.84" y2="250.88" stroke="#22B14C" stroke-width="1.6"/>
<line x1="644.24" y1="255.02" x2="649.84" y2="255.02" stroke="#22B14C" stroke-width="1.6"/>
<line x1="658.50" y1="250.88" x2="658.50" y2="255.02" stroke="#22B14C" stroke-width="1.5"/>
<line x1="655.70" y1="250.88" x2="661.30" y2="250.88" stroke="#22B14C" stroke-width="1.6"/>
<line x1="655.70" y1="255.02" x2="661.30" y2="255.02" stroke="#22B14C" stroke-width="1.6"/>
<polyline points="555.40,253.50 566.86,253.50 578.31,253.22 589.77,252.95 601.22,252.40 612.68,252.40 624.13,252.40 635.59,252.67 647.04,252.95 658.50,252.95" fill="none" stroke="#22B14C" stroke-width="2.1" stroke-linejoin="round"/>
<polygon points="555.40,250.74 552.64,255.57 558.16,255.57" fill="#22B14C"/>
<polygon points="566.86,250.74 564.10,255.57 569.62,255.57" fill="#22B14C"/>
<polygon points="578.31,250.46 575.55,255.29 581.07,255.29" fill="#22B14C"/>
<polygon points="589.77,250.19 587.01,255.02 592.53,255.02" fill="#22B14C"/>
<polygon points="601.22,249.64 598.46,254.47 603.98,254.47" fill="#22B14C"/>
<polygon points="612.68,249.64 609.92,254.47 615.44,254.47" fill="#22B14C"/>
<polygon points="624.13,249.64 621.37,254.47 626.89,254.47" fill="#22B14C"/>
<polygon points="635.59,249.91 632.83,254.74 638.35,254.74" fill="#22B14C"/>
<polygon points="647.04,250.19 644.28,255.02 649.80,255.02" fill="#22B14C"/>
<polygon points="658.50,250.19 655.74,255.02 661.26,255.02" fill="#22B14C"/>
<line x1="555.40" y1="249.37" x2="555.40" y2="257.63" stroke="#EC1C24" stroke-width="1.5"/>
<line x1="552.60" y1="249.37" x2="558.20" y2="249.37" stroke="#EC1C24" stroke-width="1.6"/>
<line x1="552.60" y1="257.63" x2="558.20" y2="257.63" stroke="#EC1C24" stroke-width="1.6"/>
<line x1="566.86" y1="248.26" x2="566.86" y2="256.53" stroke="#EC1C24" stroke-width="1.5"/>
<line x1="564.06" y1="248.26" x2="569.66" y2="248.26" stroke="#EC1C24" stroke-width="1.6"/>
<line x1="564.06" y1="256.53" x2="569.66" y2="256.53" stroke="#EC1C24" stroke-width="1.6"/>
<line x1="578.31" y1="245.92" x2="578.31" y2="255.57" stroke="#EC1C24" stroke-width="1.5"/>
<line x1="575.51" y1="245.92" x2="581.11" y2="245.92" stroke="#EC1C24" stroke-width="1.6"/>
<line x1="575.51" y1="255.57" x2="581.11" y2="255.57" stroke="#EC1C24" stroke-width="1.6"/>
<line x1="589.77" y1="243.37" x2="589.77" y2="254.40" stroke="#EC1C24" stroke-width="1.5"/>
<line x1="586.97" y1="243.37" x2="592.57" y2="243.37" stroke="#EC1C24" stroke-width="1.6"/>
<line x1="586.97" y1="254.40" x2="592.57" y2="254.40" stroke="#EC1C24" stroke-width="1.6"/>
<line x1="601.22" y1="240.41" x2="601.22" y2="252.81" stroke="#EC1C24" stroke-width="1.5"/>
<line x1="598.42" y1="240.41" x2="604.02" y2="240.41" stroke="#EC1C24" stroke-width="1.6"/>
<line x1="598.42" y1="252.81" x2="604.02" y2="252.81" stroke="#EC1C24" stroke-width="1.6"/>
<line x1="612.68" y1="239.93" x2="612.68" y2="252.33" stroke="#EC1C24" stroke-width="1.5"/>
<line x1="609.88" y1="239.93" x2="615.48" y2="239.93" stroke="#EC1C24" stroke-width="1.6"/>
<line x1="609.88" y1="252.33" x2="615.48" y2="252.33" stroke="#EC1C24" stroke-width="1.6"/>
<line x1="624.13" y1="239.38" x2="624.13" y2="251.78" stroke="#EC1C24" stroke-width="1.5"/>
<line x1="621.33" y1="239.38" x2="626.93" y2="239.38" stroke="#EC1C24" stroke-width="1.6"/>
<line x1="621.33" y1="251.78" x2="626.93" y2="251.78" stroke="#EC1C24" stroke-width="1.6"/>
<line x1="635.59" y1="239.10" x2="635.59" y2="251.50" stroke="#EC1C24" stroke-width="1.5"/>
<line x1="632.79" y1="239.10" x2="638.39" y2="239.10" stroke="#EC1C24" stroke-width="1.6"/>
<line x1="632.79" y1="251.50" x2="638.39" y2="251.50" stroke="#EC1C24" stroke-width="1.6"/>
<line x1="647.04" y1="238.82" x2="647.04" y2="251.23" stroke="#EC1C24" stroke-width="1.5"/>
<line x1="644.24" y1="238.82" x2="649.84" y2="238.82" stroke="#EC1C24" stroke-width="1.6"/>
<line x1="644.24" y1="251.23" x2="649.84" y2="251.23" stroke="#EC1C24" stroke-width="1.6"/>
<line x1="658.50" y1="238.41" x2="658.50" y2="249.43" stroke="#EC1C24" stroke-width="1.5"/>
<line x1="655.70" y1="238.41" x2="661.30" y2="238.41" stroke="#EC1C24" stroke-width="1.6"/>
<line x1="655.70" y1="249.43" x2="661.30" y2="249.43" stroke="#EC1C24" stroke-width="1.6"/>
<polyline points="555.40,253.50 566.86,252.40 578.31,250.74 589.77,248.88 601.22,246.61 612.68,246.13 624.13,245.58 635.59,245.30 647.04,245.03 658.50,243.92" fill="none" stroke="#EC1C24" stroke-width="2.1" stroke-linejoin="round"/>
<polygon points="555.40,256.14 552.76,251.52 558.04,251.52" fill="#EC1C24"/>
<polygon points="566.86,255.04 564.22,250.42 569.50,250.42" fill="#EC1C24"/>
<polygon points="578.31,253.38 575.67,248.76 580.95,248.76" fill="#EC1C24"/>
<polygon points="589.77,251.52 587.13,246.90 592.41,246.90" fill="#EC1C24"/>
<polygon points="601.22,249.25 598.58,244.63 603.86,244.63" fill="#EC1C24"/>
<polygon points="612.68,248.77 610.04,244.15 615.32,244.15" fill="#EC1C24"/>
<polygon points="624.13,248.22 621.49,243.60 626.77,243.60" fill="#EC1C24"/>
<polygon points="635.59,247.94 632.95,243.32 638.23,243.32" fill="#EC1C24"/>
<polygon points="647.04,247.67 644.40,243.05 649.68,243.05" fill="#EC1C24"/>
<polygon points="658.50,246.56 655.86,241.94 661.14,241.94" fill="#EC1C24"/>
<line x1="555.40" y1="250.05" x2="555.40" y2="256.94" stroke="#3050A8" stroke-width="1.5"/>
<line x1="552.60" y1="250.05" x2="558.20" y2="250.05" stroke="#3050A8" stroke-width="1.6"/>
<line x1="552.60" y1="256.94" x2="558.20" y2="256.94" stroke="#3050A8" stroke-width="1.6"/>
<line x1="566.86" y1="246.75" x2="566.86" y2="256.39" stroke="#3050A8" stroke-width="1.5"/>
<line x1="564.06" y1="246.75" x2="569.66" y2="246.75" stroke="#3050A8" stroke-width="1.6"/>
<line x1="564.06" y1="256.39" x2="569.66" y2="256.39" stroke="#3050A8" stroke-width="1.6"/>
<line x1="578.31" y1="239.93" x2="578.31" y2="252.33" stroke="#3050A8" stroke-width="1.5"/>
<line x1="575.51" y1="239.93" x2="581.11" y2="239.93" stroke="#3050A8" stroke-width="1.6"/>
<line x1="575.51" y1="252.33" x2="581.11" y2="252.33" stroke="#3050A8" stroke-width="1.6"/>
<line x1="589.77" y1="235.65" x2="589.77" y2="249.43" stroke="#3050A8" stroke-width="1.5"/>
<line x1="586.97" y1="235.65" x2="592.57" y2="235.65" stroke="#3050A8" stroke-width="1.6"/>
<line x1="586.97" y1="249.43" x2="592.57" y2="249.43" stroke="#3050A8" stroke-width="1.6"/>
<line x1="601.22" y1="230.90" x2="601.22" y2="246.06" stroke="#3050A8" stroke-width="1.5"/>
<line x1="598.42" y1="230.90" x2="604.02" y2="230.90" stroke="#3050A8" stroke-width="1.6"/>
<line x1="598.42" y1="246.06" x2="604.02" y2="246.06" stroke="#3050A8" stroke-width="1.6"/>
<line x1="612.68" y1="229.80" x2="612.68" y2="244.96" stroke="#3050A8" stroke-width="1.5"/>
<line x1="609.88" y1="229.80" x2="615.48" y2="229.80" stroke="#3050A8" stroke-width="1.6"/>
<line x1="609.88" y1="244.96" x2="615.48" y2="244.96" stroke="#3050A8" stroke-width="1.6"/>
<line x1="624.13" y1="230.35" x2="624.13" y2="245.51" stroke="#3050A8" stroke-width="1.5"/>
<line x1="621.33" y1="230.35" x2="626.93" y2="230.35" stroke="#3050A8" stroke-width="1.6"/>
<line x1="621.33" y1="245.51" x2="626.93" y2="245.51" stroke="#3050A8" stroke-width="1.6"/>
<line x1="635.59" y1="231.59" x2="635.59" y2="245.37" stroke="#3050A8" stroke-width="1.5"/>
<line x1="632.79" y1="231.59" x2="638.39" y2="231.59" stroke="#3050A8" stroke-width="1.6"/>
<line x1="632.79" y1="245.37" x2="638.39" y2="245.37" stroke="#3050A8" stroke-width="1.6"/>
<line x1="647.04" y1="233.11" x2="647.04" y2="245.51" stroke="#3050A8" stroke-width="1.5"/>
<line x1="644.24" y1="233.11" x2="649.84" y2="233.11" stroke="#3050A8" stroke-width="1.6"/>
<line x1="644.24" y1="245.51" x2="649.84" y2="245.51" stroke="#3050A8" stroke-width="1.6"/>
<line x1="658.50" y1="235.72" x2="658.50" y2="243.99" stroke="#3050A8" stroke-width="1.5"/>
<line x1="655.70" y1="235.72" x2="661.30" y2="235.72" stroke="#3050A8" stroke-width="1.6"/>
<line x1="655.70" y1="243.99" x2="661.30" y2="243.99" stroke="#3050A8" stroke-width="1.6"/>
<polyline points="555.40,253.50 566.86,251.57 578.31,246.13 589.77,242.54 601.22,238.48 612.68,237.38 624.13,237.93 635.59,238.48 647.04,239.31 658.50,239.86" fill="none" stroke="#3050A8" stroke-width="2.1" stroke-linejoin="round"/>
<circle cx="555.40" cy="253.50" r="2.1849999999999996" fill="#3050A8"/>
<circle cx="566.86" cy="251.57" r="2.1849999999999996" fill="#3050A8"/>
<circle cx="578.31" cy="246.13" r="2.1849999999999996" fill="#3050A8"/>
<circle cx="589.77" cy="242.54" r="2.1849999999999996" fill="#3050A8"/>
<circle cx="601.22" cy="238.48" r="2.1849999999999996" fill="#3050A8"/>
<circle cx="612.68" cy="237.38" r="2.1849999999999996" fill="#3050A8"/>
<circle cx="624.13" cy="237.93" r="2.1849999999999996" fill="#3050A8"/>
<circle cx="635.59" cy="238.48" r="2.1849999999999996" fill="#3050A8"/>
<circle cx="647.04" cy="239.31" r="2.1849999999999996" fill="#3050A8"/>
<circle cx="658.50" cy="239.86" r="2.1849999999999996" fill="#3050A8"/>
<line x1="561.60" y1="280.50" x2="578.30" y2="280.50" stroke="#3050A8" stroke-width="2.1"/>
<circle cx="569.95" cy="280.50" r="2.1849999999999996" fill="#3050A8"/>
<text x="584.30" y="283.92" font-size="9.5" text-anchor="start" fill="#080808">E:T = 1:2</text>
<line x1="561.60" y1="292.40" x2="578.30" y2="292.40" stroke="#EC1C24" stroke-width="2.1"/>
<text x="584.30" y="295.82" font-size="9.5" text-anchor="start" fill="#080808">E:T = 1:1</text>
<line x1="561.60" y1="305.40" x2="578.30" y2="305.40" stroke="#22B14C" stroke-width="2.1"/>
<polygon points="569.95,302.64 567.19,307.47 572.71,307.47" fill="#22B14C"/>
<text x="584.30" y="308.82" font-size="9.5" text-anchor="start" fill="#080808">E:T = 2:1</text>
<text x="0.00" y="406.70" font-size="18" text-anchor="start" font-weight="bold" fill="#000" transform="translate(0.00 406.70) scale(1.0150 1) translate(0.00 -406.70)">e</text>
<text x="115.90" y="420.90" font-size="11" text-anchor="middle" fill="#080808" transform="translate(115.90 420.90) scale(1.0580 1) translate(-115.90 -420.90)">STEAP1-BBζ CAR T cells</text>
<text x="116.00" y="434.00" font-size="11" text-anchor="middle" fill="#080808" transform="translate(116.00 434.00) scale(1.0350 1) translate(-116.00 -434.00)">+ 22Rv1 STEAP1 ko</text>
<line x1="64.00" y1="448.00" x2="64.00" y2="551.50" stroke="#000" stroke-width="1.45"/>
<line x1="63.30" y1="550.80" x2="167.60" y2="550.80" stroke="#000" stroke-width="1.45"/>
<line x1="59.40" y1="550.80" x2="64.00" y2="550.80" stroke="#000" stroke-width="1.45"/>
<text x="58.70" y="554.76" font-size="11" text-anchor="end" fill="#080808" transform="translate(58.70 554.76) scale(1.0350 1) translate(-58.70 -554.76)">0.00</text>
<line x1="59.40" y1="527.70" x2="64.00" y2="527.70" stroke="#000" stroke-width="1.45"/>
<text x="58.70" y="531.66" font-size="11" text-anchor="end" fill="#080808" transform="translate(58.70 531.66) scale(1.0350 1) translate(-58.70 -531.66)">0.25</text>
<line x1="59.40" y1="504.60" x2="64.00" y2="504.60" stroke="#000" stroke-width="1.45"/>
<text x="58.70" y="508.56" font-size="11" text-anchor="end" fill="#080808" transform="translate(58.70 508.56) scale(1.0350 1) translate(-58.70 -508.56)">0.50</text>
<line x1="59.40" y1="481.50" x2="64.00" y2="481.50" stroke="#000" stroke-width="1.45"/>
<text x="58.70" y="485.46" font-size="11" text-anchor="end" fill="#080808" transform="translate(58.70 485.46) scale(1.0350 1) translate(-58.70 -485.46)">0.75</text>
<line x1="59.40" y1="458.40" x2="64.00" y2="458.40" stroke="#000" stroke-width="1.45"/>
<text x="58.70" y="462.36" font-size="11" text-anchor="end" fill="#080808" transform="translate(58.70 462.36) scale(1.0350 1) translate(-58.70 -462.36)">1.00</text>
<line x1="64.00" y1="550.80" x2="64.00" y2="555.10" stroke="#000" stroke-width="1.45"/>
<text x="64.00" y="567.00" font-size="10.4" text-anchor="middle" fill="#080808">0</text>
<line x1="81.15" y1="550.80" x2="81.15" y2="555.10" stroke="#000" stroke-width="1.45"/>
<text x="81.15" y="567.00" font-size="10.4" text-anchor="middle" fill="#080808">12</text>
<line x1="98.30" y1="550.80" x2="98.30" y2="555.10" stroke="#000" stroke-width="1.45"/>
<text x="98.30" y="567.00" font-size="10.4" text-anchor="middle" fill="#080808">24</text>
<line x1="115.45" y1="550.80" x2="115.45" y2="555.10" stroke="#000" stroke-width="1.45"/>
<text x="115.45" y="567.00" font-size="10.4" text-anchor="middle" fill="#080808">36</text>
<line x1="132.60" y1="550.80" x2="132.60" y2="555.10" stroke="#000" stroke-width="1.45"/>
<text x="132.60" y="567.00" font-size="10.4" text-anchor="middle" fill="#080808">48</text>
<line x1="149.75" y1="550.80" x2="149.75" y2="555.10" stroke="#000" stroke-width="1.45"/>
<text x="149.75" y="567.00" font-size="10.4" text-anchor="middle" fill="#080808">60</text>
<line x1="166.90" y1="550.80" x2="166.90" y2="555.10" stroke="#000" stroke-width="1.45"/>
<text x="166.90" y="567.00" font-size="10.4" text-anchor="middle" fill="#080808">72</text>
<text x="111.05" y="583.20" font-size="11" text-anchor="middle" fill="#080808" transform="translate(111.05 583.20) scale(1.0350 1) translate(-111.05 -583.20)">Hours</text>
<text x="29.80" y="496.00" font-size="11" text-anchor="middle" fill="#080808" transform="rotate(-90 29.80 496.00) translate(29.80 496.00) scale(1.0350 1) translate(-29.80 -496.00)">Relative cell viability</text>
<line x1="64.00" y1="452.86" x2="64.00" y2="463.94" stroke="#22B14C" stroke-width="1.5"/>
<line x1="61.20" y1="452.86" x2="66.80" y2="452.86" stroke="#22B14C" stroke-width="1.6"/>
<line x1="61.20" y1="463.94" x2="66.80" y2="463.94" stroke="#22B14C" stroke-width="1.6"/>
<line x1="75.43" y1="456.55" x2="75.43" y2="460.25" stroke="#22B14C" stroke-width="1.5"/>
<line x1="72.63" y1="456.55" x2="78.23" y2="456.55" stroke="#22B14C" stroke-width="1.6"/>
<line x1="72.63" y1="460.25" x2="78.23" y2="460.25" stroke="#22B14C" stroke-width="1.6"/>
<line x1="86.87" y1="456.55" x2="86.87" y2="460.25" stroke="#22B14C" stroke-width="1.5"/>
<line x1="84.07" y1="456.55" x2="89.67" y2="456.55" stroke="#22B14C" stroke-width="1.6"/>
<line x1="84.07" y1="460.25" x2="89.67" y2="460.25" stroke="#22B14C" stroke-width="1.6"/>
<line x1="98.30" y1="458.40" x2="98.30" y2="462.10" stroke="#22B14C" stroke-width="1.5"/>
<line x1="95.50" y1="458.40" x2="101.10" y2="458.40" stroke="#22B14C" stroke-width="1.6"/>
<line x1="95.50" y1="462.10" x2="101.10" y2="462.10" stroke="#22B14C" stroke-width="1.6"/>
<line x1="109.73" y1="461.17" x2="109.73" y2="464.87" stroke="#22B14C" stroke-width="1.5"/>
<line x1="106.93" y1="461.17" x2="112.53" y2="461.17" stroke="#22B14C" stroke-width="1.6"/>
<line x1="106.93" y1="464.87" x2="112.53" y2="464.87" stroke="#22B14C" stroke-width="1.6"/>
<line x1="121.17" y1="465.51" x2="121.17" y2="469.21" stroke="#22B14C" stroke-width="1.5"/>
<line x1="118.37" y1="465.51" x2="123.97" y2="465.51" stroke="#22B14C" stroke-width="1.6"/>
<line x1="118.37" y1="469.21" x2="123.97" y2="469.21" stroke="#22B14C" stroke-width="1.6"/>
<line x1="132.60" y1="469.40" x2="132.60" y2="473.09" stroke="#22B14C" stroke-width="1.5"/>
<line x1="129.80" y1="469.40" x2="135.40" y2="469.40" stroke="#22B14C" stroke-width="1.6"/>
<line x1="129.80" y1="473.09" x2="135.40" y2="473.09" stroke="#22B14C" stroke-width="1.6"/>
<line x1="144.03" y1="475.96" x2="144.03" y2="479.65" stroke="#22B14C" stroke-width="1.5"/>
<line x1="141.23" y1="475.96" x2="146.83" y2="475.96" stroke="#22B14C" stroke-width="1.6"/>
<line x1="141.23" y1="479.65" x2="146.83" y2="479.65" stroke="#22B14C" stroke-width="1.6"/>
<line x1="155.47" y1="480.95" x2="155.47" y2="484.64" stroke="#22B14C" stroke-width="1.5"/>
<line x1="152.67" y1="480.95" x2="158.27" y2="480.95" stroke="#22B14C" stroke-width="1.6"/>
<line x1="152.67" y1="484.64" x2="158.27" y2="484.64" stroke="#22B14C" stroke-width="1.6"/>
<line x1="166.90" y1="486.12" x2="166.90" y2="489.82" stroke="#22B14C" stroke-width="1.5"/>
<line x1="164.10" y1="486.12" x2="169.70" y2="486.12" stroke="#22B14C" stroke-width="1.6"/>
<line x1="164.10" y1="489.82" x2="169.70" y2="489.82" stroke="#22B14C" stroke-width="1.6"/>
<polyline points="64.00,458.40 75.43,458.40 86.87,458.40 98.30,460.25 109.73,463.02 121.17,467.36 132.60,471.24 144.03,477.80 155.47,482.79 166.90,487.97" fill="none" stroke="#22B14C" stroke-width="2.1" stroke-linejoin="round"/>
<polygon points="64.00,455.76 61.36,460.38 66.64,460.38" fill="#22B14C"/>
<polygon points="75.43,455.76 72.79,460.38 78.07,460.38" fill="#22B14C"/>
<polygon points="86.87,455.76 84.23,460.38 89.51,460.38" fill="#22B14C"/>
<polygon points="98.30,457.61 95.66,462.23 100.94,462.23" fill="#22B14C"/>
<polygon points="109.73,460.38 107.09,465.00 112.37,465.00" fill="#22B14C"/>
<polygon points="121.17,464.72 118.53,469.34 123.81,469.34" fill="#22B14C"/>
<polygon points="132.60,468.60 129.96,473.22 135.24,473.22" fill="#22B14C"/>
<polygon points="144.03,475.16 141.39,479.78 146.67,479.78" fill="#22B14C"/>
<polygon points="155.47,480.15 152.83,484.77 158.11,484.77" fill="#22B14C"/>
<polygon points="166.90,485.33 164.26,489.95 169.54,489.95" fill="#22B14C"/>
<line x1="64.00" y1="455.26" x2="64.00" y2="462.65" stroke="#EC1C24" stroke-width="1.5"/>
<line x1="61.20" y1="455.26" x2="66.80" y2="455.26" stroke="#EC1C24" stroke-width="1.6"/>
<line x1="61.20" y1="462.65" x2="66.80" y2="462.65" stroke="#EC1C24" stroke-width="1.6"/>
<line x1="75.43" y1="455.07" x2="75.43" y2="460.62" stroke="#EC1C24" stroke-width="1.5"/>
<line x1="72.63" y1="455.07" x2="78.23" y2="455.07" stroke="#EC1C24" stroke-width="1.6"/>
<line x1="72.63" y1="460.62" x2="78.23" y2="460.62" stroke="#EC1C24" stroke-width="1.6"/>
<line x1="86.87" y1="455.07" x2="86.87" y2="460.62" stroke="#EC1C24" stroke-width="1.5"/>
<line x1="84.07" y1="455.07" x2="89.67" y2="455.07" stroke="#EC1C24" stroke-width="1.6"/>
<line x1="84.07" y1="460.62" x2="89.67" y2="460.62" stroke="#EC1C24" stroke-width="1.6"/>
<line x1="98.30" y1="456.92" x2="98.30" y2="462.47" stroke="#EC1C24" stroke-width="1.5"/>
<line x1="95.50" y1="456.92" x2="101.10" y2="456.92" stroke="#EC1C24" stroke-width="1.6"/>
<line x1="95.50" y1="462.47" x2="101.10" y2="462.47" stroke="#EC1C24" stroke-width="1.6"/>
<line x1="109.73" y1="459.32" x2="109.73" y2="466.72" stroke="#EC1C24" stroke-width="1.5"/>
<line x1="106.93" y1="459.32" x2="112.53" y2="459.32" stroke="#EC1C24" stroke-width="1.6"/>
<line x1="106.93" y1="466.72" x2="112.53" y2="466.72" stroke="#EC1C24" stroke-width="1.6"/>
<line x1="121.17" y1="463.67" x2="121.17" y2="471.06" stroke="#EC1C24" stroke-width="1.5"/>
<line x1="118.37" y1="463.67" x2="123.97" y2="463.67" stroke="#EC1C24" stroke-width="1.6"/>
<line x1="118.37" y1="471.06" x2="123.97" y2="471.06" stroke="#EC1C24" stroke-width="1.6"/>
<line x1="132.60" y1="462.37" x2="132.60" y2="469.77" stroke="#EC1C24" stroke-width="1.5"/>
<line x1="129.80" y1="462.37" x2="135.40" y2="462.37" stroke="#EC1C24" stroke-width="1.6"/>
<line x1="129.80" y1="469.77" x2="135.40" y2="469.77" stroke="#EC1C24" stroke-width="1.6"/>
<line x1="144.03" y1="474.11" x2="144.03" y2="479.65" stroke="#EC1C24" stroke-width="1.5"/>
<line x1="141.23" y1="474.11" x2="146.83" y2="474.11" stroke="#EC1C24" stroke-width="1.6"/>
<line x1="141.23" y1="479.65" x2="146.83" y2="479.65" stroke="#EC1C24" stroke-width="1.6"/>
<line x1="155.47" y1="476.14" x2="155.47" y2="481.68" stroke="#EC1C24" stroke-width="1.5"/>
<line x1="152.67" y1="476.14" x2="158.27" y2="476.14" stroke="#EC1C24" stroke-width="1.6"/>
<line x1="152.67" y1="481.68" x2="158.27" y2="481.68" stroke="#EC1C24" stroke-width="1.6"/>
<line x1="166.90" y1="477.25" x2="166.90" y2="484.64" stroke="#EC1C24" stroke-width="1.5"/>
<line x1="164.10" y1="477.25" x2="169.70" y2="477.25" stroke="#EC1C24" stroke-width="1.6"/>
<line x1="164.10" y1="484.64" x2="169.70" y2="484.64" stroke="#EC1C24" stroke-width="1.6"/>
<polyline points="64.00,458.95 75.43,457.85 86.87,457.85 98.30,459.69 109.73,463.02 121.17,467.36 132.60,466.07 144.03,476.88 155.47,478.91 166.90,480.95" fill="none" stroke="#EC1C24" stroke-width="2.1" stroke-linejoin="round"/>
<polygon points="64.00,461.59 61.36,456.97 66.64,456.97" fill="#EC1C24"/>
<polygon points="75.43,460.49 72.79,455.87 78.07,455.87" fill="#EC1C24"/>
<polygon points="86.87,460.49 84.23,455.87 89.51,455.87" fill="#EC1C24"/>
<polygon points="98.30,462.33 95.66,457.71 100.94,457.71" fill="#EC1C24"/>
<polygon points="109.73,465.66 107.09,461.04 112.37,461.04" fill="#EC1C24"/>
<polygon points="121.17,470.00 118.53,465.38 123.81,465.38" fill="#EC1C24"/>
<polygon points="132.60,468.71 129.96,464.09 135.24,464.09" fill="#EC1C24"/>
<polygon points="144.03,479.52 141.39,474.90 146.67,474.90" fill="#EC1C24"/>
<polygon points="155.47,481.55 152.83,476.93 158.11,476.93" fill="#EC1C24"/>
<polygon points="166.90,483.59 164.26,478.97 169.54,478.97" fill="#EC1C24"/>
<line x1="64.00" y1="455.63" x2="64.00" y2="461.17" stroke="#3050A8" stroke-width="1.5"/>
<line x1="61.20" y1="455.63" x2="66.80" y2="455.63" stroke="#3050A8" stroke-width="1.6"/>
<line x1="61.20" y1="461.17" x2="66.80" y2="461.17" stroke="#3050A8" stroke-width="1.6"/>
<line x1="75.43" y1="454.52" x2="75.43" y2="458.22" stroke="#3050A8" stroke-width="1.5"/>
<line x1="72.63" y1="454.52" x2="78.23" y2="454.52" stroke="#3050A8" stroke-width="1.6"/>
<line x1="72.63" y1="458.22" x2="78.23" y2="458.22" stroke="#3050A8" stroke-width="1.6"/>
<line x1="86.87" y1="453.23" x2="86.87" y2="456.92" stroke="#3050A8" stroke-width="1.5"/>
<line x1="84.07" y1="453.23" x2="89.67" y2="453.23" stroke="#3050A8" stroke-width="1.6"/>
<line x1="84.07" y1="456.92" x2="89.67" y2="456.92" stroke="#3050A8" stroke-width="1.6"/>
<line x1="166.90" y1="480.21" x2="166.90" y2="483.90" stroke="#3050A8" stroke-width="1.5"/>
<line x1="164.10" y1="480.21" x2="169.70" y2="480.21" stroke="#3050A8" stroke-width="1.6"/>
<line x1="164.10" y1="483.90" x2="169.70" y2="483.90" stroke="#3050A8" stroke-width="1.6"/>
<polyline points="64.00,458.40 75.43,456.37 86.87,455.07 98.30,454.80 109.73,454.80 121.17,455.81 132.60,461.45 144.03,466.62 155.47,475.12 166.90,482.05" fill="none" stroke="#3050A8" stroke-width="2.1" stroke-linejoin="round"/>
<circle cx="64.00" cy="458.40" r="2.1849999999999996" fill="#3050A8"/>
<circle cx="75.43" cy="456.37" r="2.1849999999999996" fill="#3050A8"/>
<circle cx="86.87" cy="455.07" r="2.1849999999999996" fill="#3050A8"/>
<circle cx="98.30" cy="454.80" r="2.1849999999999996" fill="#3050A8"/>
<circle cx="109.73" cy="454.80" r="2.1849999999999996" fill="#3050A8"/>
<circle cx="121.17" cy="455.81" r="2.1849999999999996" fill="#3050A8"/>
<circle cx="132.60" cy="461.45" r="2.1849999999999996" fill="#3050A8"/>
<circle cx="144.03" cy="466.62" r="2.1849999999999996" fill="#3050A8"/>
<circle cx="155.47" cy="475.12" r="2.1849999999999996" fill="#3050A8"/>
<circle cx="166.90" cy="482.05" r="2.1849999999999996" fill="#3050A8"/>
<text x="72.40" y="543.00" font-size="8.6" text-anchor="start" fill="#080808" transform="translate(72.40 543.00) scale(1.0350 1) translate(-72.40 -543.00)">p&lt;0.0001</text>
<text x="307.30" y="420.00" font-size="11" text-anchor="middle" fill="#080808" transform="translate(307.30 420.00) scale(1.0560 1) translate(-307.30 -420.00)">Untransduced T cells</text>
<text x="307.30" y="433.20" font-size="11" text-anchor="middle" fill="#080808" transform="translate(307.30 433.20) scale(1.0350 1) translate(-307.30 -433.20)">+ 22Rv1 STEAP1 ko</text>
<line x1="255.90" y1="448.00" x2="255.90" y2="551.70" stroke="#000" stroke-width="1.45"/>
<line x1="255.20" y1="551.00" x2="359.20" y2="551.00" stroke="#000" stroke-width="1.45"/>
<line x1="251.30" y1="551.00" x2="255.90" y2="551.00" stroke="#000" stroke-width="1.45"/>
<text x="250.60" y="554.96" font-size="11" text-anchor="end" fill="#080808" transform="translate(250.60 554.96) scale(1.0350 1) translate(-250.60 -554.96)">0.00</text>
<line x1="251.30" y1="527.65" x2="255.90" y2="527.65" stroke="#000" stroke-width="1.45"/>
<text x="250.60" y="531.61" font-size="11" text-anchor="end" fill="#080808" transform="translate(250.60 531.61) scale(1.0350 1) translate(-250.60 -531.61)">0.25</text>
<line x1="251.30" y1="504.30" x2="255.90" y2="504.30" stroke="#000" stroke-width="1.45"/>
<text x="250.60" y="508.26" font-size="11" text-anchor="end" fill="#080808" transform="translate(250.60 508.26) scale(1.0350 1) translate(-250.60 -508.26)">0.50</text>
<line x1="251.30" y1="480.95" x2="255.90" y2="480.95" stroke="#000" stroke-width="1.45"/>
<text x="250.60" y="484.91" font-size="11" text-anchor="end" fill="#080808" transform="translate(250.60 484.91) scale(1.0350 1) translate(-250.60 -484.91)">0.75</text>
<line x1="251.30" y1="457.60" x2="255.90" y2="457.60" stroke="#000" stroke-width="1.45"/>
<text x="250.60" y="461.56" font-size="11" text-anchor="end" fill="#080808" transform="translate(250.60 461.56) scale(1.0350 1) translate(-250.60 -461.56)">1.00</text>
<line x1="255.90" y1="551.00" x2="255.90" y2="555.30" stroke="#000" stroke-width="1.45"/>
<text x="255.90" y="565.90" font-size="10.4" text-anchor="middle" fill="#080808">0</text>
<line x1="273.00" y1="551.00" x2="273.00" y2="555.30" stroke="#000" stroke-width="1.45"/>
<text x="273.00" y="565.90" font-size="10.4" text-anchor="middle" fill="#080808">12</text>
<line x1="290.10" y1="551.00" x2="290.10" y2="555.30" stroke="#000" stroke-width="1.45"/>
<text x="290.10" y="565.90" font-size="10.4" text-anchor="middle" fill="#080808">24</text>
<line x1="307.20" y1="551.00" x2="307.20" y2="555.30" stroke="#000" stroke-width="1.45"/>
<text x="307.20" y="565.90" font-size="10.4" text-anchor="middle" fill="#080808">36</text>
<line x1="324.30" y1="551.00" x2="324.30" y2="555.30" stroke="#000" stroke-width="1.45"/>
<text x="324.30" y="565.90" font-size="10.4" text-anchor="middle" fill="#080808">48</text>
<line x1="341.40" y1="551.00" x2="341.40" y2="555.30" stroke="#000" stroke-width="1.45"/>
<text x="341.40" y="565.90" font-size="10.4" text-anchor="middle" fill="#080808">60</text>
<line x1="358.50" y1="551.00" x2="358.50" y2="555.30" stroke="#000" stroke-width="1.45"/>
<text x="358.50" y="565.90" font-size="10.4" text-anchor="middle" fill="#080808">72</text>
<text x="308.70" y="582.60" font-size="11" text-anchor="middle" fill="#080808" transform="translate(308.70 582.60) scale(1.0350 1) translate(-308.70 -582.60)">Hours</text>
<text x="221.00" y="496.00" font-size="11" text-anchor="middle" fill="#080808" transform="rotate(-90 221.00 496.00) translate(221.00 496.00) scale(1.0350 1) translate(-221.00 -496.00)">Relative cell viability</text>
<line x1="255.90" y1="456.67" x2="255.90" y2="458.53" stroke="#22B14C" stroke-width="1.5"/>
<line x1="253.10" y1="456.67" x2="258.70" y2="456.67" stroke="#22B14C" stroke-width="1.6"/>
<line x1="253.10" y1="458.53" x2="258.70" y2="458.53" stroke="#22B14C" stroke-width="1.6"/>
<line x1="267.30" y1="456.67" x2="267.30" y2="458.53" stroke="#22B14C" stroke-width="1.5"/>
<line x1="264.50" y1="456.67" x2="270.10" y2="456.67" stroke="#22B14C" stroke-width="1.6"/>
<line x1="264.50" y1="458.53" x2="270.10" y2="458.53" stroke="#22B14C" stroke-width="1.6"/>
<line x1="278.70" y1="459.84" x2="278.70" y2="461.71" stroke="#22B14C" stroke-width="1.5"/>
<line x1="275.90" y1="459.84" x2="281.50" y2="459.84" stroke="#22B14C" stroke-width="1.6"/>
<line x1="275.90" y1="461.71" x2="281.50" y2="461.71" stroke="#22B14C" stroke-width="1.6"/>
<line x1="290.10" y1="463.95" x2="290.10" y2="465.82" stroke="#22B14C" stroke-width="1.5"/>
<line x1="287.30" y1="463.95" x2="292.90" y2="463.95" stroke="#22B14C" stroke-width="1.6"/>
<line x1="287.30" y1="465.82" x2="292.90" y2="465.82" stroke="#22B14C" stroke-width="1.6"/>
<line x1="301.50" y1="466.57" x2="301.50" y2="468.43" stroke="#22B14C" stroke-width="1.5"/>
<line x1="298.70" y1="466.57" x2="304.30" y2="466.57" stroke="#22B14C" stroke-width="1.6"/>
<line x1="298.70" y1="468.43" x2="304.30" y2="468.43" stroke="#22B14C" stroke-width="1.6"/>
<line x1="312.90" y1="471.42" x2="312.90" y2="473.29" stroke="#22B14C" stroke-width="1.5"/>
<line x1="310.10" y1="471.42" x2="315.70" y2="471.42" stroke="#22B14C" stroke-width="1.6"/>
<line x1="310.10" y1="473.29" x2="315.70" y2="473.29" stroke="#22B14C" stroke-width="1.6"/>
<line x1="324.30" y1="475.35" x2="324.30" y2="477.21" stroke="#22B14C" stroke-width="1.5"/>
<line x1="321.50" y1="475.35" x2="327.10" y2="475.35" stroke="#22B14C" stroke-width="1.6"/>
<line x1="321.50" y1="477.21" x2="327.10" y2="477.21" stroke="#22B14C" stroke-width="1.6"/>
<line x1="335.70" y1="474.69" x2="335.70" y2="476.56" stroke="#22B14C" stroke-width="1.5"/>
<line x1="332.90" y1="474.69" x2="338.50" y2="474.69" stroke="#22B14C" stroke-width="1.6"/>
<line x1="332.90" y1="476.56" x2="338.50" y2="476.56" stroke="#22B14C" stroke-width="1.6"/>
<line x1="347.10" y1="473.29" x2="347.10" y2="475.16" stroke="#22B14C" stroke-width="1.5"/>
<line x1="344.30" y1="473.29" x2="349.90" y2="473.29" stroke="#22B14C" stroke-width="1.6"/>
<line x1="344.30" y1="475.16" x2="349.90" y2="475.16" stroke="#22B14C" stroke-width="1.6"/>
<line x1="358.50" y1="470.58" x2="358.50" y2="472.45" stroke="#22B14C" stroke-width="1.5"/>
<line x1="355.70" y1="470.58" x2="361.30" y2="470.58" stroke="#22B14C" stroke-width="1.6"/>
<line x1="355.70" y1="472.45" x2="361.30" y2="472.45" stroke="#22B14C" stroke-width="1.6"/>
<polyline points="255.90,457.60 267.30,457.60 278.70,460.78 290.10,464.89 301.50,467.50 312.90,472.36 324.30,476.28 335.70,475.63 347.10,474.23 358.50,471.52" fill="none" stroke="#22B14C" stroke-width="2.1" stroke-linejoin="round"/>
<polygon points="255.90,454.96 253.26,459.58 258.54,459.58" fill="#22B14C"/>
<polygon points="267.30,454.96 264.66,459.58 269.94,459.58" fill="#22B14C"/>
<polygon points="278.70,458.14 276.06,462.76 281.34,462.76" fill="#22B14C"/>
<polygon points="290.10,462.25 287.46,466.87 292.74,466.87" fill="#22B14C"/>
<polygon points="301.50,464.86 298.86,469.48 304.14,469.48" fill="#22B14C"/>
<polygon points="312.90,469.72 310.26,474.34 315.54,474.34" fill="#22B14C"/>
<polygon points="324.30,473.64 321.66,478.26 326.94,478.26" fill="#22B14C"/>
<polygon points="335.70,472.99 333.06,477.61 338.34,477.61" fill="#22B14C"/>
<polygon points="347.10,471.59 344.46,476.21 349.74,476.21" fill="#22B14C"/>
<polygon points="358.50,468.88 355.86,473.50 361.14,473.50" fill="#22B14C"/>
<line x1="255.90" y1="453.86" x2="255.90" y2="461.34" stroke="#EC1C24" stroke-width="1.5"/>
<line x1="253.10" y1="453.86" x2="258.70" y2="453.86" stroke="#EC1C24" stroke-width="1.6"/>
<line x1="253.10" y1="461.34" x2="258.70" y2="461.34" stroke="#EC1C24" stroke-width="1.6"/>
<line x1="267.30" y1="453.86" x2="267.30" y2="461.34" stroke="#EC1C24" stroke-width="1.5"/>
<line x1="264.50" y1="453.86" x2="270.10" y2="453.86" stroke="#EC1C24" stroke-width="1.6"/>
<line x1="264.50" y1="461.34" x2="270.10" y2="461.34" stroke="#EC1C24" stroke-width="1.6"/>
<line x1="278.70" y1="457.51" x2="278.70" y2="463.11" stroke="#EC1C24" stroke-width="1.5"/>
<line x1="275.90" y1="457.51" x2="281.50" y2="457.51" stroke="#EC1C24" stroke-width="1.6"/>
<line x1="275.90" y1="463.11" x2="281.50" y2="463.11" stroke="#EC1C24" stroke-width="1.6"/>
<line x1="290.10" y1="459.65" x2="290.10" y2="465.26" stroke="#EC1C24" stroke-width="1.5"/>
<line x1="287.30" y1="459.65" x2="292.90" y2="459.65" stroke="#EC1C24" stroke-width="1.6"/>
<line x1="287.30" y1="465.26" x2="292.90" y2="465.26" stroke="#EC1C24" stroke-width="1.6"/>
<line x1="301.50" y1="460.68" x2="301.50" y2="466.29" stroke="#EC1C24" stroke-width="1.5"/>
<line x1="298.70" y1="460.68" x2="304.30" y2="460.68" stroke="#EC1C24" stroke-width="1.6"/>
<line x1="298.70" y1="466.29" x2="304.30" y2="466.29" stroke="#EC1C24" stroke-width="1.6"/>
<line x1="312.90" y1="463.67" x2="312.90" y2="469.28" stroke="#EC1C24" stroke-width="1.5"/>
<line x1="310.10" y1="463.67" x2="315.70" y2="463.67" stroke="#EC1C24" stroke-width="1.6"/>
<line x1="310.10" y1="469.28" x2="315.70" y2="469.28" stroke="#EC1C24" stroke-width="1.6"/>
<line x1="324.30" y1="465.54" x2="324.30" y2="471.14" stroke="#EC1C24" stroke-width="1.5"/>
<line x1="321.50" y1="465.54" x2="327.10" y2="465.54" stroke="#EC1C24" stroke-width="1.6"/>
<line x1="321.50" y1="471.14" x2="327.10" y2="471.14" stroke="#EC1C24" stroke-width="1.6"/>
<line x1="335.70" y1="463.67" x2="335.70" y2="469.28" stroke="#EC1C24" stroke-width="1.5"/>
<line x1="332.90" y1="463.67" x2="338.50" y2="463.67" stroke="#EC1C24" stroke-width="1.6"/>
<line x1="332.90" y1="469.28" x2="338.50" y2="469.28" stroke="#EC1C24" stroke-width="1.6"/>
<line x1="347.10" y1="462.83" x2="347.10" y2="468.43" stroke="#EC1C24" stroke-width="1.5"/>
<line x1="344.30" y1="462.83" x2="349.90" y2="462.83" stroke="#EC1C24" stroke-width="1.6"/>
<line x1="344.30" y1="468.43" x2="349.90" y2="468.43" stroke="#EC1C24" stroke-width="1.6"/>
<line x1="358.50" y1="460.68" x2="358.50" y2="466.29" stroke="#EC1C24" stroke-width="1.5"/>
<line x1="355.70" y1="460.68" x2="361.30" y2="460.68" stroke="#EC1C24" stroke-width="1.6"/>
<line x1="355.70" y1="466.29" x2="361.30" y2="466.29" stroke="#EC1C24" stroke-width="1.6"/>
<polyline points="255.90,457.60 267.30,457.60 278.70,460.31 290.10,462.46 301.50,463.48 312.90,466.47 324.30,468.34 335.70,466.47 347.10,465.63 358.50,463.48" fill="none" stroke="#EC1C24" stroke-width="2.1" stroke-linejoin="round"/>
<polygon points="255.90,460.24 253.26,455.62 258.54,455.62" fill="#EC1C24"/>
<polygon points="267.30,460.24 264.66,455.62 269.94,455.62" fill="#EC1C24"/>
<polygon points="278.70,462.95 276.06,458.33 281.34,458.33" fill="#EC1C24"/>
<polygon points="290.10,465.10 287.46,460.48 292.74,460.48" fill="#EC1C24"/>
<polygon points="301.50,466.12 298.86,461.50 304.14,461.50" fill="#EC1C24"/>
<polygon points="312.90,469.11 310.26,464.49 315.54,464.49" fill="#EC1C24"/>
<polygon points="324.30,470.98 321.66,466.36 326.94,466.36" fill="#EC1C24"/>
<polygon points="335.70,469.11 333.06,464.49 338.34,464.49" fill="#EC1C24"/>
<polygon points="347.10,468.27 344.46,463.65 349.74,463.65" fill="#EC1C24"/>
<polygon points="358.50,466.12 355.86,461.50 361.14,461.50" fill="#EC1C24"/>
<line x1="255.90" y1="454.24" x2="255.90" y2="459.84" stroke="#3050A8" stroke-width="1.5"/>
<line x1="253.10" y1="454.24" x2="258.70" y2="454.24" stroke="#3050A8" stroke-width="1.6"/>
<line x1="253.10" y1="459.84" x2="258.70" y2="459.84" stroke="#3050A8" stroke-width="1.6"/>
<line x1="267.30" y1="454.42" x2="267.30" y2="458.16" stroke="#3050A8" stroke-width="1.5"/>
<line x1="264.50" y1="454.42" x2="270.10" y2="454.42" stroke="#3050A8" stroke-width="1.6"/>
<line x1="264.50" y1="458.16" x2="270.10" y2="458.16" stroke="#3050A8" stroke-width="1.6"/>
<line x1="278.70" y1="453.86" x2="278.70" y2="457.60" stroke="#3050A8" stroke-width="1.5"/>
<line x1="275.90" y1="453.86" x2="281.50" y2="453.86" stroke="#3050A8" stroke-width="1.6"/>
<line x1="275.90" y1="457.60" x2="281.50" y2="457.60" stroke="#3050A8" stroke-width="1.6"/>
<line x1="290.10" y1="452.56" x2="290.10" y2="456.29" stroke="#3050A8" stroke-width="1.5"/>
<line x1="287.30" y1="452.56" x2="292.90" y2="452.56" stroke="#3050A8" stroke-width="1.6"/>
<line x1="287.30" y1="456.29" x2="292.90" y2="456.29" stroke="#3050A8" stroke-width="1.6"/>
<line x1="301.50" y1="452.93" x2="301.50" y2="458.53" stroke="#3050A8" stroke-width="1.5"/>
<line x1="298.70" y1="452.93" x2="304.30" y2="452.93" stroke="#3050A8" stroke-width="1.6"/>
<line x1="298.70" y1="458.53" x2="304.30" y2="458.53" stroke="#3050A8" stroke-width="1.6"/>
<line x1="312.90" y1="457.97" x2="312.90" y2="463.58" stroke="#3050A8" stroke-width="1.5"/>
<line x1="310.10" y1="457.97" x2="315.70" y2="457.97" stroke="#3050A8" stroke-width="1.6"/>
<line x1="310.10" y1="463.58" x2="315.70" y2="463.58" stroke="#3050A8" stroke-width="1.6"/>
<line x1="324.30" y1="460.12" x2="324.30" y2="465.73" stroke="#3050A8" stroke-width="1.5"/>
<line x1="321.50" y1="460.12" x2="327.10" y2="460.12" stroke="#3050A8" stroke-width="1.6"/>
<line x1="321.50" y1="465.73" x2="327.10" y2="465.73" stroke="#3050A8" stroke-width="1.6"/>
<line x1="335.70" y1="457.04" x2="335.70" y2="464.51" stroke="#3050A8" stroke-width="1.5"/>
<line x1="332.90" y1="457.04" x2="338.50" y2="457.04" stroke="#3050A8" stroke-width="1.6"/>
<line x1="332.90" y1="464.51" x2="338.50" y2="464.51" stroke="#3050A8" stroke-width="1.6"/>
<line x1="347.10" y1="456.01" x2="347.10" y2="463.48" stroke="#3050A8" stroke-width="1.5"/>
<line x1="344.30" y1="456.01" x2="349.90" y2="456.01" stroke="#3050A8" stroke-width="1.6"/>
<line x1="344.30" y1="463.48" x2="349.90" y2="463.48" stroke="#3050A8" stroke-width="1.6"/>
<line x1="358.50" y1="452.37" x2="358.50" y2="461.71" stroke="#3050A8" stroke-width="1.5"/>
<line x1="355.70" y1="452.37" x2="361.30" y2="452.37" stroke="#3050A8" stroke-width="1.6"/>
<line x1="355.70" y1="461.71" x2="361.30" y2="461.71" stroke="#3050A8" stroke-width="1.6"/>
<polyline points="255.90,457.04 267.30,456.29 278.70,455.73 290.10,454.42 301.50,455.73 312.90,460.78 324.30,462.92 335.70,460.78 347.10,459.75 358.50,457.04" fill="none" stroke="#3050A8" stroke-width="2.1" stroke-linejoin="round"/>
<circle cx="255.90" cy="457.04" r="2.1849999999999996" fill="#3050A8"/>
<circle cx="267.30" cy="456.29" r="2.1849999999999996" fill="#3050A8"/>
<circle cx="278.70" cy="455.73" r="2.1849999999999996" fill="#3050A8"/>
<circle cx="290.10" cy="454.42" r="2.1849999999999996" fill="#3050A8"/>
<circle cx="301.50" cy="455.73" r="2.1849999999999996" fill="#3050A8"/>
<circle cx="312.90" cy="460.78" r="2.1849999999999996" fill="#3050A8"/>
<circle cx="324.30" cy="462.92" r="2.1849999999999996" fill="#3050A8"/>
<circle cx="335.70" cy="460.78" r="2.1849999999999996" fill="#3050A8"/>
<circle cx="347.10" cy="459.75" r="2.1849999999999996" fill="#3050A8"/>
<circle cx="358.50" cy="457.04" r="2.1849999999999996" fill="#3050A8"/>
<line x1="264.80" y1="513.80" x2="280.20" y2="513.80" stroke="#3050A8" stroke-width="2.1"/>
<circle cx="272.50" cy="513.80" r="2.1849999999999996" fill="#3050A8"/>
<text x="288.60" y="517.22" font-size="9.5" text-anchor="start" fill="#080808">E:T = 1:2</text>
<line x1="264.80" y1="526.40" x2="280.20" y2="526.40" stroke="#EC1C24" stroke-width="2.1"/>
<text x="288.60" y="529.82" font-size="9.5" text-anchor="start" fill="#080808">E:T = 1:1</text>
<line x1="264.80" y1="538.60" x2="280.20" y2="538.60" stroke="#22B14C" stroke-width="2.1"/>
<polygon points="272.50,535.84 269.74,540.67 275.26,540.67" fill="#22B14C"/>
<text x="288.60" y="542.02" font-size="9.5" text-anchor="start" fill="#080808">E:T = 2:1</text>
<text x="412.20" y="407.00" font-size="18" text-anchor="start" font-weight="bold" fill="#000" transform="translate(412.20 407.00) scale(1.0150 1) translate(-412.20 -407.00)">f</text>
<text x="502.20" y="424.60" font-size="11" text-anchor="middle" fill="#080808" transform="translate(502.20 424.60) scale(1.0350 1) translate(-502.20 -424.60)">AR+</text>
<line x1="458.00" y1="430.50" x2="545.80" y2="430.50" stroke="#000" stroke-width="1.3"/>
<text x="591.90" y="407.00" font-size="11" text-anchor="middle" fill="#080808" transform="translate(591.90 407.00) scale(1.0350 1) translate(-591.90 -407.00)">AR-</text>
<line x1="545.90" y1="413.80" x2="637.20" y2="413.80" stroke="#000" stroke-width="1.3"/>
<text x="480.20" y="488.00" font-size="11" text-anchor="start" fill="#080808" transform="rotate(-90 480.20 488.00) translate(480.20 488.00) scale(1.0200 1) translate(-480.20 -488.00)">LNCaP</text>
<text x="500.50" y="488.00" font-size="11" text-anchor="start" fill="#080808" transform="rotate(-90 500.50 488.00) translate(500.50 488.00) scale(1.0200 1) translate(-500.50 -488.00)">22Rv1</text>
<text x="521.50" y="488.00" font-size="11" text-anchor="start" fill="#080808" transform="rotate(-90 521.50 488.00) translate(521.50 488.00) scale(1.0200 1) translate(-521.50 -488.00)">VCaP</text>
<text x="543.10" y="488.00" font-size="11" text-anchor="start" fill="#080808" transform="rotate(-90 543.10 488.00) translate(543.10 488.00) scale(1.0200 1) translate(-543.10 -488.00)">LNCaP95</text>
<text x="564.70" y="488.00" font-size="11" text-anchor="start" fill="#080808" transform="rotate(-90 564.70 488.00) translate(564.70 488.00) scale(1.0200 1) translate(-564.70 -488.00)">PC3</text>
<text x="585.90" y="488.00" font-size="11" text-anchor="start" fill="#080808" transform="rotate(-90 585.90 488.00) translate(585.90 488.00) scale(1.0200 1) translate(-585.90 -488.00)">DU145</text>
<text x="607.20" y="488.00" font-size="11" text-anchor="start" fill="#080808" transform="rotate(-90 607.20 488.00) translate(607.20 488.00) scale(1.0200 1) translate(-607.20 -488.00)">MSKCC EF1</text>
<text x="627.70" y="488.00" font-size="11" text-anchor="start" fill="#080808" transform="rotate(-90 627.70 488.00) translate(627.70 488.00) scale(1.0200 1) translate(-627.70 -488.00)">NCI-H660</text>
<rect x="458.10" y="494.50" width="179.30" height="25.70" fill="#fff" stroke="#000" stroke-width="1.4"/>
<rect x="458.10" y="524.30" width="179.30" height="25.80" fill="#fdfdfd" stroke="#000" stroke-width="1.4"/>
<rect x="462.0" y="505.9" width="19.0" height="4.2" rx="2.1" fill="#000" opacity="1.0" filter="url(#blur1)"/>
<rect x="485.0" y="505.7" width="16.7" height="2.6" rx="1.3" fill="#aaa" opacity="1.0" filter="url(#blur1)"/>
<rect x="505.8" y="503.4" width="18.4" height="4.2" rx="2.1" fill="#000" opacity="1.0" filter="url(#blur1)"/>
<rect x="527.9" y="504.6" width="18.8" height="3.0" rx="1.5" fill="#777" opacity="1.0" filter="url(#blur1)"/>
<rect x="462.0" y="534.1" width="18.5" height="4.2" rx="2.1" fill="#000" opacity="1.0" filter="url(#blur1)"/>
<rect x="484.0" y="533.0" width="16.3" height="3.6" rx="1.8" fill="#222" opacity="1.0" filter="url(#blur1)"/>
<rect x="504.4" y="532.6" width="18.4" height="3.6" rx="1.8" fill="#222" opacity="1.0" filter="url(#blur1)"/>
<rect x="526.3" y="533.0" width="17.7" height="3.6" rx="1.8" fill="#222" opacity="1.0" filter="url(#blur1)"/>
<rect x="548.0" y="534.2" width="18.5" height="3.6" rx="1.8" fill="#333" opacity="1.0" filter="url(#blur1)"/>
<rect x="570.0" y="533.8" width="18.5" height="4.4" rx="2.2" fill="#000" opacity="1.0" filter="url(#blur1)"/>
<rect x="591.6" y="533.8" width="18.4" height="4.4" rx="2.2" fill="#000" opacity="1.0" filter="url(#blur1)"/>
<rect x="613.5" y="534.3" width="19.4" height="4.0" rx="2.0" fill="#000" opacity="1.0" filter="url(#blur1)"/>
<text x="452.00" y="512.40" font-size="11" text-anchor="end" fill="#080808" transform="translate(452.00 512.40) scale(1.0350 1) translate(-452.00 -512.40)">STEAP1</text>
<text x="452.60" y="540.60" font-size="11" text-anchor="end" fill="#080808" transform="translate(452.60 540.60) scale(1.0350 1) translate(-452.60 -540.60)">GAPDH</text>
<text x="642.00" y="510.50" font-size="11" text-anchor="start" fill="#080808" transform="translate(642.00 510.50) scale(1.0350 1) translate(-642.00 -510.50)">40 kDa</text>
<text x="642.00" y="541.00" font-size="11" text-anchor="start" fill="#080808" transform="translate(642.00 541.00) scale(1.0350 1) translate(-642.00 -541.00)">36 kDa</text>
<text x="1.00" y="623.00" font-size="18" text-anchor="start" font-weight="bold" fill="#000" transform="translate(1.00 623.00) scale(1.0150 1) translate(-1.00 -623.00)">g</text>
<rect x="58.90" y="615.80" width="6.50" height="5.00" fill="#1440FF"/>
<text x="70.30" y="621.50" font-size="9.8" text-anchor="start" fill="#080808">Untransduced T cells</text>
<rect x="58.90" y="627.40" width="6.50" height="5.00" fill="#FF2A00"/>
<text x="70.30" y="632.70" font-size="9.8" text-anchor="start" fill="#080808">STEAP1-BBζ CAR T Cells</text>
<line x1="53.30" y1="644.80" x2="53.30" y2="751.30" stroke="#111" stroke-width="1.45"/>
<line x1="48.50" y1="751.30" x2="53.30" y2="751.30" stroke="#111" stroke-width="1.45"/>
<text x="48.00" y="757.06" font-size="11" text-anchor="end" fill="#111" transform="translate(48.00 757.06) scale(1.0350 1) translate(-48.00 -757.06)">0</text>
<line x1="48.50" y1="733.65" x2="53.30" y2="733.65" stroke="#111" stroke-width="1.45"/>
<text x="48.00" y="739.41" font-size="11" text-anchor="end" fill="#111" transform="translate(48.00 739.41) scale(1.0350 1) translate(-48.00 -739.41)">1000</text>
<line x1="48.50" y1="716.00" x2="53.30" y2="716.00" stroke="#111" stroke-width="1.45"/>
<text x="48.00" y="721.76" font-size="11" text-anchor="end" fill="#111" transform="translate(48.00 721.76) scale(1.0350 1) translate(-48.00 -721.76)">2000</text>
<line x1="48.50" y1="698.35" x2="53.30" y2="698.35" stroke="#111" stroke-width="1.45"/>
<text x="48.00" y="704.11" font-size="11" text-anchor="end" fill="#111" transform="translate(48.00 704.11) scale(1.0350 1) translate(-48.00 -704.11)">3000</text>
<line x1="48.50" y1="680.70" x2="53.30" y2="680.70" stroke="#111" stroke-width="1.45"/>
<text x="48.00" y="686.46" font-size="11" text-anchor="end" fill="#111" transform="translate(48.00 686.46) scale(1.0350 1) translate(-48.00 -686.46)">4000</text>
<line x1="48.50" y1="663.05" x2="53.30" y2="663.05" stroke="#111" stroke-width="1.45"/>
<text x="48.00" y="668.81" font-size="11" text-anchor="end" fill="#111" transform="translate(48.00 668.81) scale(1.0350 1) translate(-48.00 -668.81)">5000</text>
<line x1="48.50" y1="645.40" x2="53.30" y2="645.40" stroke="#111" stroke-width="1.45"/>
<text x="48.00" y="651.16" font-size="11" text-anchor="end" fill="#111" transform="translate(48.00 651.16) scale(1.0350 1) translate(-48.00 -651.16)">6000</text>
<line x1="52.60" y1="751.30" x2="227.50" y2="751.30" stroke="#000" stroke-width="1.45"/>
<text x="15.60" y="686.50" font-size="10.4" text-anchor="middle" fill="#080808" transform="rotate(-90 15.60 686.50) translate(15.60 686.50) scale(1.0350 1) translate(-15.60 -686.50)">IFN-γ (pg/ml)</text>
<rect x="64.10" y="719.79" width="5.80" height="31.51" fill="#FF2A00"/>
<line x1="67.00" y1="719.79" x2="67.00" y2="717.00" stroke="#111" stroke-width="0.9"/>
<line x1="64.80" y1="717.00" x2="69.20" y2="717.00" stroke="#111" stroke-width="0.9"/>
<circle cx="67.00" cy="712.70" r="1.65" fill="#000"/>
<circle cx="65.50" cy="719.70" r="1.65" fill="#000"/>
<circle cx="68.50" cy="722.30" r="1.65" fill="#000"/>
<circle cx="65.50" cy="723.70" r="1.65" fill="#000"/>
<line x1="62.40" y1="751.30" x2="62.40" y2="754.90" stroke="#000" stroke-width="1.3"/>
<text x="67.40" y="763.00" font-size="11.1" text-anchor="end" fill="#080808" transform="rotate(-45 67.40 763.00) translate(67.40 763.00) scale(1.0350 1) translate(-67.40 -763.00)">LNCaP</text>
<rect x="86.30" y="723.77" width="5.80" height="27.53" fill="#FF2A00"/>
<line x1="89.20" y1="723.77" x2="89.20" y2="721.00" stroke="#111" stroke-width="0.9"/>
<line x1="87.00" y1="721.00" x2="91.40" y2="721.00" stroke="#111" stroke-width="0.9"/>
<circle cx="89.20" cy="714.70" r="1.65" fill="#000"/>
<circle cx="87.70" cy="719.40" r="1.65" fill="#000"/>
<circle cx="90.70" cy="723.50" r="1.65" fill="#000"/>
<circle cx="87.70" cy="725.00" r="1.65" fill="#000"/>
<line x1="84.60" y1="751.30" x2="84.60" y2="754.90" stroke="#000" stroke-width="1.3"/>
<text x="89.60" y="763.00" font-size="11.1" text-anchor="end" fill="#080808" transform="rotate(-45 89.60 763.00) translate(89.60 763.00) scale(1.0350 1) translate(-89.60 -763.00)">22Rv1</text>
<rect x="108.50" y="728.09" width="5.80" height="23.21" fill="#FF2A00"/>
<line x1="111.40" y1="728.09" x2="111.40" y2="726.50" stroke="#111" stroke-width="0.9"/>
<line x1="109.20" y1="726.50" x2="113.60" y2="726.50" stroke="#111" stroke-width="0.9"/>
<circle cx="111.40" cy="723.50" r="1.65" fill="#000"/>
<circle cx="109.90" cy="726.50" r="1.65" fill="#000"/>
<circle cx="112.90" cy="728.50" r="1.65" fill="#000"/>
<circle cx="109.90" cy="729.50" r="1.65" fill="#000"/>
<line x1="106.80" y1="751.30" x2="106.80" y2="754.90" stroke="#000" stroke-width="1.3"/>
<text x="111.80" y="763.00" font-size="11.1" text-anchor="end" fill="#080808" transform="rotate(-45 111.80 763.00) translate(111.80 763.00) scale(1.0350 1) translate(-111.80 -763.00)">VCaP</text>
<rect x="130.70" y="663.23" width="5.80" height="88.07" fill="#FF2A00"/>
<line x1="133.60" y1="663.23" x2="133.60" y2="658.40" stroke="#111" stroke-width="0.9"/>
<line x1="131.40" y1="658.40" x2="135.80" y2="658.40" stroke="#111" stroke-width="0.9"/>
<circle cx="133.60" cy="650.90" r="1.65" fill="#000"/>
<circle cx="132.10" cy="663.70" r="1.65" fill="#000"/>
<circle cx="135.10" cy="668.90" r="1.65" fill="#000"/>
<circle cx="132.10" cy="670.70" r="1.65" fill="#000"/>
<line x1="129.00" y1="751.30" x2="129.00" y2="754.90" stroke="#000" stroke-width="1.3"/>
<text x="134.00" y="763.00" font-size="11.1" text-anchor="end" fill="#080808" transform="rotate(-45 134.00 763.00) translate(134.00 763.00) scale(1.0350 1) translate(-134.00 -763.00)">LNCaP95</text>
<rect x="152.90" y="659.87" width="5.80" height="91.43" fill="#FF2A00"/>
<line x1="155.80" y1="659.87" x2="155.80" y2="652.80" stroke="#111" stroke-width="0.9"/>
<line x1="153.60" y1="652.80" x2="158.00" y2="652.80" stroke="#111" stroke-width="0.9"/>
<circle cx="155.80" cy="658.40" r="1.65" fill="#000"/>
<circle cx="154.30" cy="665.90" r="1.65" fill="#000"/>
<circle cx="157.30" cy="672.40" r="1.65" fill="#000"/>
<line x1="151.20" y1="751.30" x2="151.20" y2="754.90" stroke="#000" stroke-width="1.3"/>
<text x="156.20" y="763.00" font-size="11.1" text-anchor="end" fill="#080808" transform="rotate(-45 156.20 763.00) translate(156.20 763.00) scale(1.0350 1) translate(-156.20 -763.00)">PC3</text>
<rect x="175.10" y="745.83" width="5.80" height="5.47" fill="#FF2A00"/>
<line x1="178.00" y1="745.83" x2="178.00" y2="744.00" stroke="#111" stroke-width="0.9"/>
<line x1="175.80" y1="744.00" x2="180.20" y2="744.00" stroke="#111" stroke-width="0.9"/>
<circle cx="178.00" cy="742.20" r="1.65" fill="#000"/>
<circle cx="176.50" cy="744.30" r="1.65" fill="#000"/>
<circle cx="179.50" cy="745.70" r="1.65" fill="#000"/>
<circle cx="176.50" cy="748.20" r="1.65" fill="#000"/>
<line x1="173.40" y1="751.30" x2="173.40" y2="754.90" stroke="#000" stroke-width="1.3"/>
<text x="178.40" y="763.00" font-size="11.1" text-anchor="end" fill="#080808" transform="rotate(-45 178.40 763.00) translate(178.40 763.00) scale(1.0350 1) translate(-178.40 -763.00)">DU145</text>
<rect x="197.30" y="749.53" width="5.80" height="1.76" fill="#FF2A00"/>
<line x1="200.20" y1="749.53" x2="200.20" y2="748.00" stroke="#111" stroke-width="0.9"/>
<line x1="198.00" y1="748.00" x2="202.40" y2="748.00" stroke="#111" stroke-width="0.9"/>
<circle cx="200.20" cy="743.40" r="1.65" fill="#000"/>
<circle cx="198.70" cy="747.80" r="1.65" fill="#000"/>
<circle cx="201.70" cy="751.00" r="1.65" fill="#000"/>
<line x1="195.60" y1="751.30" x2="195.60" y2="754.90" stroke="#000" stroke-width="1.3"/>
<text x="200.60" y="763.00" font-size="11.1" text-anchor="end" fill="#080808" transform="rotate(-45 200.60 763.00) translate(200.60 763.00) scale(1.0350 1) translate(-200.60 -763.00)">MSKCC EF1</text>
<line x1="222.40" y1="751.30" x2="222.40" y2="751.00" stroke="#111" stroke-width="0.9"/>
<line x1="220.20" y1="751.00" x2="224.60" y2="751.00" stroke="#111" stroke-width="0.9"/>
<circle cx="222.40" cy="753.20" r="1.65" fill="#000"/>
<line x1="217.80" y1="751.30" x2="217.80" y2="754.90" stroke="#000" stroke-width="1.3"/>
<text x="222.80" y="763.00" font-size="11.1" text-anchor="end" fill="#080808" transform="rotate(-45 222.80 763.00) translate(222.80 763.00) scale(1.0350 1) translate(-222.80 -763.00)">NCI-H660</text>
<circle cx="125.30" cy="751.00" r="1.5" fill="#080808"/>
<circle cx="147.20" cy="745.10" r="1.5" fill="#080808"/>
<line x1="147.60" y1="751.00" x2="147.60" y2="748.00" stroke="#111" stroke-width="0.9"/>
<line x1="145.60" y1="748.00" x2="149.60" y2="748.00" stroke="#111" stroke-width="0.9"/>
<text x="248.60" y="622.90" font-size="18" text-anchor="start" font-weight="bold" fill="#000" transform="translate(248.60 622.90) scale(1.0150 1) translate(-248.60 -622.90)">h</text>
<text x="382.00" y="632.40" font-size="11" text-anchor="middle" fill="#080808" transform="translate(382.00 632.40) scale(1.0350 1) translate(-382.00 -632.40)">PC3</text>
<line x1="354.00" y1="637.70" x2="410.00" y2="637.70" stroke="#000" stroke-width="1.3"/>
<text x="312.60" y="712.50" font-size="11" text-anchor="start" fill="#080808" transform="rotate(-90 312.60 712.50) translate(312.60 712.50) scale(1.0350 1) translate(-312.60 -712.50)">22Rv1</text>
<text x="341.60" y="712.50" font-size="11" text-anchor="start" fill="#080808" transform="rotate(-90 341.60 712.50) translate(341.60 712.50) scale(1.0350 1) translate(-341.60 -712.50)">PC3</text>
<text x="370.70" y="712.50" font-size="11" text-anchor="start" fill="#080808" transform="rotate(-90 370.70 712.50) translate(370.70 712.50) scale(1.0350 1) translate(-370.70 -712.50)">STEAP1 ko 1</text>
<text x="387.00" y="712.50" font-size="11" text-anchor="start" fill="#080808" transform="rotate(-90 387.00 712.50) translate(387.00 712.50) scale(1.0350 1) translate(-387.00 -712.50)">STEAP1 ko 2</text>
<text x="403.40" y="712.50" font-size="11" text-anchor="start" fill="#080808" transform="rotate(-90 403.40 712.50) translate(403.40 712.50) scale(1.0350 1) translate(-403.40 -712.50)">STEAP1 ko 3</text>
<rect x="293.30" y="717.90" width="118.90" height="23.80" fill="#e9e9e9" stroke="#000" stroke-width="1.8"/>
<rect x="293.30" y="745.30" width="118.90" height="21.90" fill="#e7e7e7" stroke="#000" stroke-width="1.8"/>
<rect x="358" y="722" width="50" height="16" fill="#d6d6d6" filter="url(#blur3)"/>
<ellipse cx="379" cy="725" rx="5.5" ry="4.5" fill="#b8b8b8" filter="url(#blur2)"/>
<ellipse cx="381" cy="729" rx="3" ry="3" fill="#c4c4c4" filter="url(#blur2)"/>
<ellipse cx="398" cy="729" rx="5" ry="3.5" fill="#cdcdcd" filter="url(#blur2)"/>
<ellipse cx="336" cy="731" rx="6" ry="8" fill="#dedede" filter="url(#blur2)"/>
<path d="M299.4,728 C299.4,725.6 302,725 305,724.4 C309,723 312,720.6 315.6,719.6 L316,736.4 C313,739 303,739.6 300,737 C299,734 299.2,731 299.4,728 Z" fill="#333" filter="url(#blurh)"/>
<rect x="331.4" y="728.0" width="9.2" height="1.8" rx="0.9" fill="#555" opacity="1.0" filter="url(#blurh)"/>
<rect x="331.0" y="733.8" width="11.3" height="2.4" rx="1.2" fill="#333" opacity="1.0" filter="url(#blurh)"/>
<path d="M299.0,752.6 L313.2,752.6 L313.2,758.8 Q313.2,760.8 310.2,760.8 L302.0,760.8 Q299.0,760.8 299.0,758.8 Z" fill="#363636" filter="url(#blurh)"/>
<path d="M329.2,752.8 L344.2,752.8 L344.2,760.2 Q344.2,762.2 341.2,762.2 L332.2,762.2 Q329.2,762.2 329.2,760.2 Z" fill="#363636" filter="url(#blurh)"/>
<path d="M358.4,752.8 L375.2,752.8 L375.2,758.8 Q375.2,760.8 372.2,760.8 L361.4,760.8 Q358.4,760.8 358.4,758.8 Z" fill="#363636" filter="url(#blurh)"/>
<path d="M375.0,753.6 L388.6,753.6 L388.6,758.4 Q388.6,760.4 385.6,760.4 L378.0,760.4 Q375.0,760.4 375.0,758.4 Z" fill="#363636" filter="url(#blurh)"/>
<path d="M389.0,753.2 L404.2,753.2 L404.2,758.6 Q404.2,760.6 401.2,760.6 L392.0,760.6 Q389.0,760.6 389.0,758.6 Z" fill="#363636" filter="url(#blurh)"/>
<text x="286.60" y="735.00" font-size="11" text-anchor="end" fill="#080808" transform="translate(286.60 735.00) scale(1.0350 1) translate(-286.60 -735.00)">STEAP1</text>
<text x="286.60" y="761.80" font-size="11" text-anchor="end" fill="#080808" transform="translate(286.60 761.80) scale(1.0350 1) translate(-286.60 -761.80)">GAPDH</text>
<text x="415.70" y="736.70" font-size="11" text-anchor="start" fill="#080808" transform="translate(415.70 736.70) scale(1.0350 1) translate(-415.70 -736.70)">40 kDa</text>
<text x="415.70" y="762.70" font-size="11" text-anchor="start" fill="#080808" transform="translate(415.70 762.70) scale(1.0350 1) translate(-415.70 -762.70)">36 kDa</text>
<text x="467.3" y="622.1" font-size="18" font-weight="bold" fill="#000">i</text>
<rect x="519.30" y="615.80" width="6.50" height="5.00" fill="#1440FF"/>
<text x="530.30" y="621.20" font-size="9.8" text-anchor="start" fill="#080808">Untransduced T cells</text>
<rect x="519.30" y="627.40" width="6.50" height="5.00" fill="#FF2A00"/>
<text x="530.30" y="632.40" font-size="9.8" text-anchor="start" fill="#080808">STEAP1-BBζ CAR T Cells</text>
<line x1="515.20" y1="644.80" x2="515.20" y2="755.00" stroke="#111" stroke-width="1.45"/>
<line x1="510.40" y1="755.00" x2="515.20" y2="755.00" stroke="#111" stroke-width="1.45"/>
<text x="509.90" y="759.96" font-size="11" text-anchor="end" fill="#111" transform="translate(509.90 759.96) scale(1.0350 1) translate(-509.90 -759.96)">0</text>
<line x1="510.40" y1="727.60" x2="515.20" y2="727.60" stroke="#111" stroke-width="1.45"/>
<text x="509.90" y="732.56" font-size="11" text-anchor="end" fill="#111" transform="translate(509.90 732.56) scale(1.0350 1) translate(-509.90 -732.56)">1000</text>
<line x1="510.40" y1="700.20" x2="515.20" y2="700.20" stroke="#111" stroke-width="1.45"/>
<text x="509.90" y="705.16" font-size="11" text-anchor="end" fill="#111" transform="translate(509.90 705.16) scale(1.0350 1) translate(-509.90 -705.16)">2000</text>
<line x1="510.40" y1="672.80" x2="515.20" y2="672.80" stroke="#111" stroke-width="1.45"/>
<text x="509.90" y="677.76" font-size="11" text-anchor="end" fill="#111" transform="translate(509.90 677.76) scale(1.0350 1) translate(-509.90 -677.76)">3000</text>
<line x1="510.40" y1="645.40" x2="515.20" y2="645.40" stroke="#111" stroke-width="1.45"/>
<text x="509.90" y="650.36" font-size="11" text-anchor="end" fill="#111" transform="translate(509.90 650.36) scale(1.0350 1) translate(-509.90 -650.36)">4000</text>
<line x1="514.50" y1="755.00" x2="677.70" y2="755.00" stroke="#000" stroke-width="1.45"/>
<text x="477.80" y="689.20" font-size="10.4" text-anchor="middle" fill="#080808" transform="rotate(-90 477.80 689.20) translate(477.80 689.20) scale(1.0350 1) translate(-477.80 -689.20)">IFN-γ (pg/ml)</text>
<rect x="519.50" y="751.44" width="8.50" height="3.56" fill="#1440FF"/>
<rect x="532.00" y="709.60" width="8.50" height="45.40" fill="#FF2A00"/>
<line x1="523.75" y1="751.44" x2="523.75" y2="751.00" stroke="#111" stroke-width="0.9"/>
<line x1="521.25" y1="751.00" x2="526.25" y2="751.00" stroke="#111" stroke-width="0.9"/>
<line x1="536.25" y1="709.60" x2="536.25" y2="706.60" stroke="#111" stroke-width="0.9"/>
<line x1="533.75" y1="706.60" x2="538.75" y2="706.60" stroke="#111" stroke-width="0.9"/>
<line x1="529.50" y1="755.00" x2="529.50" y2="758.80" stroke="#000" stroke-width="1.3"/>
<text x="536.20" y="765.00" font-size="10.8" text-anchor="end" fill="#080808" transform="rotate(-45 536.20 765.00) translate(536.20 765.00) scale(1.0350 1) translate(-536.20 -765.00)">22Rv1</text>
<rect x="553.15" y="750.34" width="8.50" height="4.66" fill="#1440FF"/>
<rect x="565.65" y="663.68" width="8.50" height="91.32" fill="#FF2A00"/>
<line x1="557.40" y1="750.34" x2="557.40" y2="750.50" stroke="#111" stroke-width="0.9"/>
<line x1="554.90" y1="750.50" x2="559.90" y2="750.50" stroke="#111" stroke-width="0.9"/>
<line x1="569.90" y1="663.68" x2="569.90" y2="652.90" stroke="#111" stroke-width="0.9"/>
<line x1="567.40" y1="652.90" x2="572.40" y2="652.90" stroke="#111" stroke-width="0.9"/>
<line x1="563.15" y1="755.00" x2="563.15" y2="758.80" stroke="#000" stroke-width="1.3"/>
<text x="569.85" y="765.00" font-size="10.8" text-anchor="end" fill="#080808" transform="rotate(-45 569.85 765.00) translate(569.85 765.00) scale(1.0350 1) translate(-569.85 -765.00)">PC3</text>
<rect x="586.80" y="745.68" width="8.50" height="9.32" fill="#1440FF"/>
<rect x="599.30" y="754.18" width="8.50" height="0.82" fill="#FF2A00"/>
<line x1="591.05" y1="745.68" x2="591.05" y2="738.70" stroke="#111" stroke-width="0.9"/>
<line x1="588.55" y1="738.70" x2="593.55" y2="738.70" stroke="#111" stroke-width="0.9"/>
<line x1="603.55" y1="754.18" x2="603.55" y2="754.00" stroke="#111" stroke-width="0.9"/>
<line x1="601.05" y1="754.00" x2="606.05" y2="754.00" stroke="#111" stroke-width="0.9"/>
<line x1="596.80" y1="755.00" x2="596.80" y2="758.80" stroke="#000" stroke-width="1.3"/>
<text x="603.50" y="765.00" font-size="10.8" text-anchor="end" fill="#080808" transform="rotate(-45 603.50 765.00) translate(603.50 765.00) scale(1.0350 1) translate(-603.50 -765.00)">PC3 STEAP1 ko 1</text>
<rect x="620.45" y="749.79" width="8.50" height="5.21" fill="#1440FF"/>
<rect x="632.95" y="753.90" width="8.50" height="1.10" fill="#FF2A00"/>
<line x1="624.70" y1="749.79" x2="624.70" y2="749.50" stroke="#111" stroke-width="0.9"/>
<line x1="622.20" y1="749.50" x2="627.20" y2="749.50" stroke="#111" stroke-width="0.9"/>
<line x1="637.20" y1="753.90" x2="637.20" y2="748.90" stroke="#111" stroke-width="0.9"/>
<line x1="634.70" y1="748.90" x2="639.70" y2="748.90" stroke="#111" stroke-width="0.9"/>
<line x1="630.45" y1="755.00" x2="630.45" y2="758.80" stroke="#000" stroke-width="1.3"/>
<text x="637.15" y="765.00" font-size="10.8" text-anchor="end" fill="#080808" transform="rotate(-45 637.15 765.00) translate(637.15 765.00) scale(1.0350 1) translate(-637.15 -765.00)">PC3 STEAP1 ko 2</text>
<rect x="654.10" y="749.79" width="8.50" height="5.21" fill="#1440FF"/>
<rect x="666.60" y="753.63" width="8.50" height="1.37" fill="#FF2A00"/>
<line x1="658.35" y1="749.79" x2="658.35" y2="749.50" stroke="#111" stroke-width="0.9"/>
<line x1="655.85" y1="749.50" x2="660.85" y2="749.50" stroke="#111" stroke-width="0.9"/>
<line x1="670.85" y1="753.63" x2="670.85" y2="748.90" stroke="#111" stroke-width="0.9"/>
<line x1="668.35" y1="748.90" x2="673.35" y2="748.90" stroke="#111" stroke-width="0.9"/>
<line x1="664.10" y1="755.00" x2="664.10" y2="758.80" stroke="#000" stroke-width="1.3"/>
<text x="670.80" y="765.00" font-size="10.8" text-anchor="end" fill="#080808" transform="rotate(-45 670.80 765.00) translate(670.80 765.00) scale(1.0350 1) translate(-670.80 -765.00)">PC3 STEAP1 ko 3</text>
<circle cx="520.80" cy="752.00" r="1.6" fill="#000"/>
<circle cx="524.00" cy="751.50" r="1.6" fill="#000"/>
<circle cx="527.00" cy="752.30" r="1.6" fill="#000"/>
<circle cx="533.20" cy="708.00" r="1.6" fill="#000"/>
<circle cx="536.30" cy="711.00" r="1.6" fill="#000"/>
<circle cx="536.30" cy="714.50" r="1.6" fill="#000"/>
<circle cx="539.00" cy="706.60" r="1.6" fill="#000"/>
<circle cx="554.50" cy="752.00" r="1.6" fill="#000"/>
<circle cx="557.50" cy="750.80" r="1.6" fill="#000"/>
<circle cx="560.50" cy="751.00" r="1.6" fill="#000"/>
<circle cx="569.70" cy="653.10" r="1.6" fill="#000"/>
<circle cx="569.70" cy="658.70" r="1.6" fill="#000"/>
<circle cx="569.70" cy="666.40" r="1.6" fill="#000"/>
<circle cx="569.70" cy="676.60" r="1.6" fill="#000"/>
<circle cx="590.50" cy="735.00" r="1.6" fill="#000"/>
<circle cx="587.50" cy="750.50" r="1.6" fill="#000"/>
<circle cx="590.50" cy="749.60" r="1.6" fill="#000"/>
<circle cx="593.50" cy="749.60" r="1.6" fill="#000"/>
<circle cx="599.50" cy="754.00" r="1.6" fill="#000"/>
<circle cx="602.50" cy="753.70" r="1.6" fill="#000"/>
<circle cx="605.00" cy="754.30" r="1.6" fill="#000"/>
<circle cx="621.70" cy="752.00" r="1.6" fill="#000"/>
<circle cx="624.50" cy="751.00" r="1.6" fill="#000"/>
<circle cx="627.00" cy="751.80" r="1.6" fill="#000"/>
<circle cx="637.00" cy="749.50" r="1.6" fill="#000"/>
<circle cx="634.50" cy="754.50" r="1.6" fill="#000"/>
<circle cx="639.50" cy="754.50" r="1.6" fill="#000"/>
<circle cx="655.50" cy="752.00" r="1.6" fill="#000"/>
<circle cx="659.50" cy="751.00" r="1.6" fill="#000"/>
<circle cx="662.00" cy="751.30" r="1.6" fill="#000"/>
<circle cx="670.70" cy="748.90" r="1.6" fill="#000"/>
<circle cx="668.50" cy="754.50" r="1.6" fill="#000"/>
<circle cx="673.00" cy="754.50" r="1.6" fill="#000"/>
<text x="537.40" y="700.30" font-size="7.4" text-anchor="middle" fill="#222" transform="translate(537.40 700.30) scale(1.0350 1) translate(-537.40 -700.30)">p&lt;0.0001</text>
<text x="569.20" y="649.00" font-size="7.4" text-anchor="middle" fill="#222" transform="translate(569.20 649.00) scale(1.0350 1) translate(-569.20 -649.00)">p&lt;0.0001</text>
</svg>
</body></html>
